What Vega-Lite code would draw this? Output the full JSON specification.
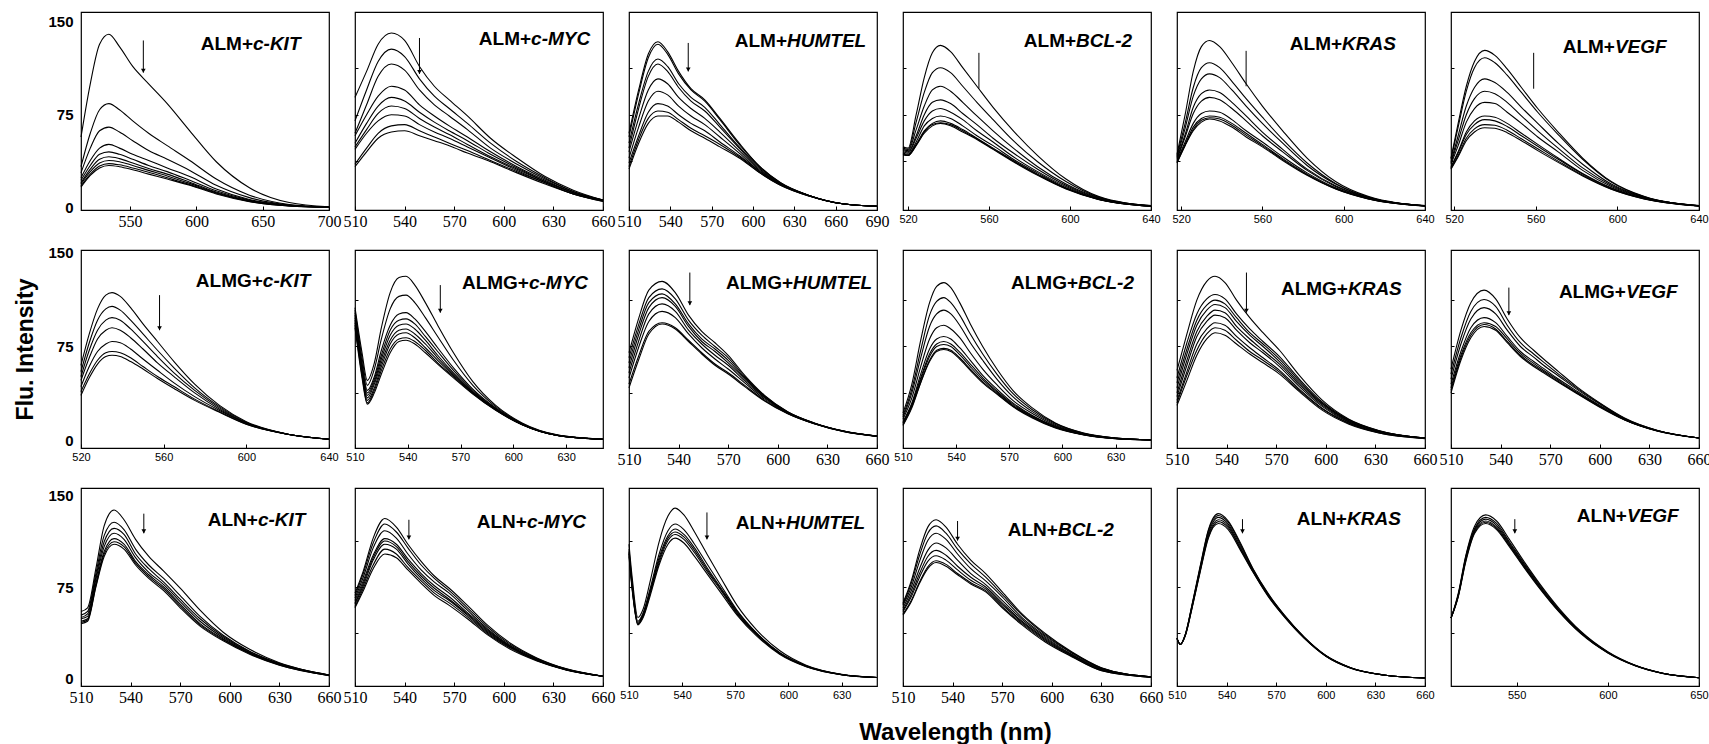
{"$schema":"https://vega.github.io/schema/vega-lite/v6.json","background":"white","padding":{"left":14,"top":11,"right":0,"bottom":0},"bounds":"flush","columns":6,"spacing":{"row":40,"column":26},
"config":{"view":{"stroke":"#000","strokeWidth":1.2},"axis":{"grid":false,"domain":false,"tickColor":"#000","labelColor":"#000","labelOverlap":false,"labelFlush":false,"labelBound":false},"axisX":{"labelFont":"Liberation Serif","labelFontSize":16,"labelPadding":7,"tickSize":-4},"axisY":{"tickSize":-3,"labelFont":"Liberation Sans","labelFontSize":15,"labelFontWeight":"bold","labelPadding":8},"line":{"color":"#000","strokeWidth":1.1,"interpolate":"monotone","clip":true},"text":{"font":"Liberation Sans","fontSize":19,"fontWeight":"bold","baseline":"middle","color":"#000"},"rule":{"color":"#000","strokeWidth":1},"point":{"color":"#000","filled":true,"shape":"triangle-down","size":22,"opacity":1}},
"concat":[
{"width":248,"height":198,"layer":[
{"data":{"values":[
{"c":1,"x":513,"y":57},{"c":1,"x":520,"y":100},{"c":1,"x":527,"y":132},{"c":1,"x":534,"y":140},{"c":1,"x":542,"y":130},{"c":1,"x":552,"y":114},{"c":1,"x":564,"y":100},{"c":1,"x":578,"y":84},{"c":1,"x":595,"y":62},{"c":1,"x":615,"y":37},{"c":1,"x":640,"y":16},{"c":1,"x":670,"y":4},{"c":1,"x":700,"y":0.5},
{"c":2,"x":513,"y":33},{"c":2,"x":520,"y":60},{"c":2,"x":527,"y":79},{"c":2,"x":534,"y":84},{"c":2,"x":542,"y":79},{"c":2,"x":552,"y":70},{"c":2,"x":564,"y":60},{"c":2,"x":578,"y":50},{"c":2,"x":595,"y":38},{"c":2,"x":615,"y":23},{"c":2,"x":640,"y":10},{"c":2,"x":670,"y":2.5},{"c":2,"x":700,"y":0.3},
{"c":3,"x":513,"y":28},{"c":3,"x":520,"y":48},{"c":3,"x":527,"y":62},{"c":3,"x":534,"y":65},{"c":3,"x":542,"y":61},{"c":3,"x":552,"y":54},{"c":3,"x":564,"y":46},{"c":3,"x":578,"y":39},{"c":3,"x":595,"y":30},{"c":3,"x":615,"y":18},{"c":3,"x":640,"y":8},{"c":3,"x":670,"y":2},{"c":3,"x":700,"y":0.3},
{"c":4,"x":513,"y":24},{"c":4,"x":520,"y":38},{"c":4,"x":527,"y":48},{"c":4,"x":534,"y":51},{"c":4,"x":542,"y":48},{"c":4,"x":552,"y":43},{"c":4,"x":564,"y":38},{"c":4,"x":578,"y":32},{"c":4,"x":595,"y":25},{"c":4,"x":615,"y":15},{"c":4,"x":640,"y":6.5},{"c":4,"x":670,"y":1.8},{"c":4,"x":700,"y":0.2},
{"c":5,"x":513,"y":22},{"c":5,"x":520,"y":34},{"c":5,"x":527,"y":43},{"c":5,"x":534,"y":45},{"c":5,"x":542,"y":43},{"c":5,"x":552,"y":39},{"c":5,"x":564,"y":34},{"c":5,"x":578,"y":29},{"c":5,"x":595,"y":22},{"c":5,"x":615,"y":13.5},{"c":5,"x":640,"y":6},{"c":5,"x":670,"y":1.6},{"c":5,"x":700,"y":0.2},
{"c":6,"x":513,"y":20},{"c":6,"x":520,"y":31},{"c":6,"x":527,"y":39},{"c":6,"x":534,"y":41},{"c":6,"x":542,"y":39.5},{"c":6,"x":552,"y":36},{"c":6,"x":564,"y":31.5},{"c":6,"x":578,"y":27},{"c":6,"x":595,"y":20.5},{"c":6,"x":615,"y":12.5},{"c":6,"x":640,"y":5.5},{"c":6,"x":670,"y":1.5},{"c":6,"x":700,"y":0.2},
{"c":7,"x":513,"y":19},{"c":7,"x":520,"y":29},{"c":7,"x":527,"y":36},{"c":7,"x":534,"y":38},{"c":7,"x":542,"y":37},{"c":7,"x":552,"y":34},{"c":7,"x":564,"y":30},{"c":7,"x":578,"y":25.5},{"c":7,"x":595,"y":19.5},{"c":7,"x":615,"y":12},{"c":7,"x":640,"y":5.2},{"c":7,"x":670,"y":1.4},{"c":7,"x":700,"y":0.2},
{"c":8,"x":513,"y":17.5},{"c":8,"x":520,"y":27},{"c":8,"x":527,"y":33.5},{"c":8,"x":534,"y":35.5},{"c":8,"x":542,"y":34.5},{"c":8,"x":552,"y":32},{"c":8,"x":564,"y":28.5},{"c":8,"x":578,"y":24},{"c":8,"x":595,"y":18.5},{"c":8,"x":615,"y":11.5},{"c":8,"x":640,"y":5},{"c":8,"x":670,"y":1.3},{"c":8,"x":700,"y":0.2},
{"c":9,"x":513,"y":16.5},{"c":9,"x":520,"y":26},{"c":9,"x":527,"y":32},{"c":9,"x":534,"y":34},{"c":9,"x":542,"y":33},{"c":9,"x":552,"y":30.5},{"c":9,"x":564,"y":27},{"c":9,"x":578,"y":23},{"c":9,"x":595,"y":18},{"c":9,"x":615,"y":11},{"c":9,"x":640,"y":4.8},{"c":9,"x":670,"y":1.3},{"c":9,"x":700,"y":0.2}
]},"mark":"line","encoding":{"x":{"field":"x","type":"quantitative","scale":{"domain":[513,700],"nice":false,"zero":false},"axis":{"values":[550,600,650,700],"title":null}},"y":{"field":"y","type":"quantitative","scale":{"domain":[-2,158],"nice":false,"zero":false},"axis":{"values":[0,75,150],"tickSize":0,"title":null}},"detail":{"field":"c","type":"nominal"}}},
{"data":{"values":[{}]},"mark":"rule","encoding":{"x":{"datum":560},"y":{"datum":135},"y2":{"datum":109}}},
{"data":{"values":[{}]},"mark":"point","encoding":{"x":{"datum":560},"y":{"datum":110.5}}},
{"data":{"values":[{}]},"mark":{"type":"text","align":"right"},"encoding":{"x":{"datum":642.7},"y":{"datum":132},"text":{"value":"ALM+"}}},
{"data":{"values":[{}]},"mark":{"type":"text","align":"left","fontStyle":"italic"},"encoding":{"x":{"datum":642.7},"y":{"datum":132},"text":{"value":"c-KIT"}}}
]},
{"width":248,"height":198,"layer":[
{"data":{"values":[
{"c":1,"x":510,"y":89},{"c":1,"x":517,"y":110},{"c":1,"x":524,"y":132},{"c":1,"x":532,"y":141},{"c":1,"x":540,"y":135},{"c":1,"x":549,"y":114},{"c":1,"x":558,"y":98},{"c":1,"x":567,"y":87},{"c":1,"x":578,"y":74},{"c":1,"x":592,"y":56},{"c":1,"x":608,"y":40},{"c":1,"x":625,"y":25},{"c":1,"x":642,"y":14},{"c":1,"x":660,"y":6},
{"c":2,"x":510,"y":70},{"c":2,"x":517,"y":95},{"c":2,"x":524,"y":118},{"c":2,"x":532,"y":128},{"c":2,"x":540,"y":122},{"c":2,"x":549,"y":104},{"c":2,"x":558,"y":90},{"c":2,"x":567,"y":80},{"c":2,"x":578,"y":68},{"c":2,"x":592,"y":52},{"c":2,"x":608,"y":37},{"c":2,"x":625,"y":24},{"c":2,"x":642,"y":13},{"c":2,"x":660,"y":6},
{"c":3,"x":510,"y":60},{"c":3,"x":517,"y":83},{"c":3,"x":524,"y":106},{"c":3,"x":532,"y":116},{"c":3,"x":540,"y":111},{"c":3,"x":549,"y":95},{"c":3,"x":558,"y":83},{"c":3,"x":567,"y":74},{"c":3,"x":578,"y":63},{"c":3,"x":592,"y":48},{"c":3,"x":608,"y":35},{"c":3,"x":625,"y":23},{"c":3,"x":642,"y":13},{"c":3,"x":660,"y":6},
{"c":4,"x":510,"y":58},{"c":4,"x":517,"y":75},{"c":4,"x":524,"y":90},{"c":4,"x":532,"y":98},{"c":4,"x":540,"y":95},{"c":4,"x":549,"y":83},{"c":4,"x":558,"y":74},{"c":4,"x":567,"y":66},{"c":4,"x":578,"y":57},{"c":4,"x":592,"y":45},{"c":4,"x":608,"y":33},{"c":4,"x":625,"y":22},{"c":4,"x":642,"y":12},{"c":4,"x":660,"y":6},
{"c":5,"x":510,"y":52},{"c":5,"x":517,"y":68},{"c":5,"x":524,"y":82},{"c":5,"x":532,"y":89},{"c":5,"x":540,"y":86},{"c":5,"x":549,"y":77},{"c":5,"x":558,"y":69},{"c":5,"x":567,"y":62},{"c":5,"x":578,"y":54},{"c":5,"x":592,"y":43},{"c":5,"x":608,"y":32},{"c":5,"x":625,"y":21},{"c":5,"x":642,"y":12},{"c":5,"x":660,"y":5.5},
{"c":6,"x":510,"y":49},{"c":6,"x":517,"y":63},{"c":6,"x":524,"y":76},{"c":6,"x":532,"y":82},{"c":6,"x":540,"y":80},{"c":6,"x":549,"y":72},{"c":6,"x":558,"y":65},{"c":6,"x":567,"y":59},{"c":6,"x":578,"y":51},{"c":6,"x":592,"y":41},{"c":6,"x":608,"y":31},{"c":6,"x":625,"y":21},{"c":6,"x":642,"y":12},{"c":6,"x":660,"y":5.5},
{"c":7,"x":510,"y":47},{"c":7,"x":517,"y":60},{"c":7,"x":524,"y":70},{"c":7,"x":532,"y":75},{"c":7,"x":540,"y":74},{"c":7,"x":549,"y":67},{"c":7,"x":558,"y":61},{"c":7,"x":567,"y":56},{"c":7,"x":578,"y":49},{"c":7,"x":592,"y":40},{"c":7,"x":608,"y":30},{"c":7,"x":625,"y":20},{"c":7,"x":642,"y":11},{"c":7,"x":660,"y":5.5},
{"c":8,"x":510,"y":35},{"c":8,"x":517,"y":48},{"c":8,"x":524,"y":60},{"c":8,"x":532,"y":66},{"c":8,"x":540,"y":67},{"c":8,"x":549,"y":62},{"c":8,"x":558,"y":57},{"c":8,"x":567,"y":52},{"c":8,"x":578,"y":46},{"c":8,"x":592,"y":38},{"c":8,"x":608,"y":29},{"c":8,"x":625,"y":20},{"c":8,"x":642,"y":11},{"c":8,"x":660,"y":5},
{"c":9,"x":510,"y":33},{"c":9,"x":517,"y":45},{"c":9,"x":524,"y":56},{"c":9,"x":532,"y":61},{"c":9,"x":540,"y":62},{"c":9,"x":549,"y":58},{"c":9,"x":558,"y":54},{"c":9,"x":567,"y":50},{"c":9,"x":578,"y":44},{"c":9,"x":592,"y":37},{"c":9,"x":608,"y":28},{"c":9,"x":625,"y":19},{"c":9,"x":642,"y":11},{"c":9,"x":660,"y":5}
]},"mark":"line","encoding":{"x":{"field":"x","type":"quantitative","scale":{"domain":[510,660],"nice":false,"zero":false},"axis":{"values":[510,540,570,600,630,660],"title":null}},"y":{"field":"y","type":"quantitative","scale":{"domain":[-2,158],"nice":false,"zero":false},"axis":{"values":[37.5,75,112.5],"labels":false,"title":null}},"detail":{"field":"c","type":"nominal"}}},
{"data":{"values":[{}]},"mark":"rule","encoding":{"x":{"datum":549},"y":{"datum":137},"y2":{"datum":108}}},
{"data":{"values":[{}]},"mark":"point","encoding":{"x":{"datum":549},"y":{"datum":109.5}}},
{"data":{"values":[{}]},"mark":{"type":"text","align":"right"},"encoding":{"x":{"datum":616.5},"y":{"datum":136},"text":{"value":"ALM+"}}},
{"data":{"values":[{}]},"mark":{"type":"text","align":"left","fontStyle":"italic"},"encoding":{"x":{"datum":616.5},"y":{"datum":136},"text":{"value":"c-MYC"}}}
]},
{"width":248,"height":198,"layer":[
{"data":{"values":[
{"c":1,"x":510,"y":60},{"c":1,"x":517,"y":95},{"c":1,"x":524,"y":124},{"c":1,"x":531,"y":134},{"c":1,"x":538,"y":126},{"c":1,"x":546,"y":110},{"c":1,"x":555,"y":96},{"c":1,"x":565,"y":87},{"c":1,"x":576,"y":72},{"c":1,"x":590,"y":52},{"c":1,"x":605,"y":33},{"c":1,"x":620,"y":20},{"c":1,"x":640,"y":10},{"c":1,"x":665,"y":3},{"c":1,"x":690,"y":1},
{"c":2,"x":510,"y":57},{"c":2,"x":517,"y":92},{"c":2,"x":524,"y":121},{"c":2,"x":531,"y":132},{"c":2,"x":538,"y":124},{"c":2,"x":546,"y":108},{"c":2,"x":555,"y":95},{"c":2,"x":565,"y":86},{"c":2,"x":576,"y":71},{"c":2,"x":590,"y":51},{"c":2,"x":605,"y":33},{"c":2,"x":620,"y":20},{"c":2,"x":640,"y":10},{"c":2,"x":665,"y":3},{"c":2,"x":690,"y":1},
{"c":3,"x":510,"y":52},{"c":3,"x":517,"y":84},{"c":3,"x":524,"y":110},{"c":3,"x":531,"y":120},{"c":3,"x":538,"y":114},{"c":3,"x":546,"y":100},{"c":3,"x":555,"y":89},{"c":3,"x":565,"y":81},{"c":3,"x":576,"y":67},{"c":3,"x":590,"y":49},{"c":3,"x":605,"y":32},{"c":3,"x":620,"y":19.5},{"c":3,"x":640,"y":10},{"c":3,"x":665,"y":3},{"c":3,"x":690,"y":1},
{"c":4,"x":510,"y":48},{"c":4,"x":517,"y":80},{"c":4,"x":524,"y":106},{"c":4,"x":531,"y":116},{"c":4,"x":538,"y":110},{"c":4,"x":546,"y":97},{"c":4,"x":555,"y":86},{"c":4,"x":565,"y":78},{"c":4,"x":576,"y":65},{"c":4,"x":590,"y":48},{"c":4,"x":605,"y":31},{"c":4,"x":620,"y":19},{"c":4,"x":640,"y":10},{"c":4,"x":665,"y":3},{"c":4,"x":690,"y":1},
{"c":5,"x":510,"y":45},{"c":5,"x":517,"y":72},{"c":5,"x":524,"y":95},{"c":5,"x":531,"y":104},{"c":5,"x":538,"y":100},{"c":5,"x":546,"y":89},{"c":5,"x":555,"y":80},{"c":5,"x":565,"y":72},{"c":5,"x":576,"y":61},{"c":5,"x":590,"y":46},{"c":5,"x":605,"y":30},{"c":5,"x":620,"y":19},{"c":5,"x":640,"y":10},{"c":5,"x":665,"y":3},{"c":5,"x":690,"y":1},
{"c":6,"x":510,"y":40},{"c":6,"x":517,"y":65},{"c":6,"x":524,"y":86},{"c":6,"x":531,"y":94},{"c":6,"x":538,"y":91},{"c":6,"x":546,"y":82},{"c":6,"x":555,"y":74},{"c":6,"x":565,"y":67},{"c":6,"x":576,"y":57},{"c":6,"x":590,"y":44},{"c":6,"x":605,"y":29},{"c":6,"x":620,"y":18.5},{"c":6,"x":640,"y":10},{"c":6,"x":665,"y":3},{"c":6,"x":690,"y":1},
{"c":7,"x":510,"y":36},{"c":7,"x":517,"y":58},{"c":7,"x":524,"y":77},{"c":7,"x":531,"y":84},{"c":7,"x":538,"y":82},{"c":7,"x":546,"y":75},{"c":7,"x":555,"y":68},{"c":7,"x":565,"y":62},{"c":7,"x":576,"y":53},{"c":7,"x":590,"y":42},{"c":7,"x":605,"y":29},{"c":7,"x":620,"y":18.5},{"c":7,"x":640,"y":9.5},{"c":7,"x":665,"y":3},{"c":7,"x":690,"y":1},
{"c":8,"x":510,"y":33},{"c":8,"x":517,"y":55},{"c":8,"x":524,"y":72},{"c":8,"x":531,"y":78},{"c":8,"x":538,"y":77},{"c":8,"x":546,"y":71},{"c":8,"x":555,"y":64},{"c":8,"x":565,"y":58},{"c":8,"x":576,"y":51},{"c":8,"x":590,"y":41},{"c":8,"x":605,"y":28},{"c":8,"x":620,"y":18},{"c":8,"x":640,"y":9.5},{"c":8,"x":665,"y":3},{"c":8,"x":690,"y":1},
{"c":9,"x":510,"y":31},{"c":9,"x":517,"y":52},{"c":9,"x":524,"y":68},{"c":9,"x":531,"y":74},{"c":9,"x":538,"y":74},{"c":9,"x":546,"y":69},{"c":9,"x":555,"y":62},{"c":9,"x":565,"y":56},{"c":9,"x":576,"y":49},{"c":9,"x":590,"y":40},{"c":9,"x":605,"y":28},{"c":9,"x":620,"y":18},{"c":9,"x":640,"y":9.5},{"c":9,"x":665,"y":3},{"c":9,"x":690,"y":1}
]},"mark":"line","encoding":{"x":{"field":"x","type":"quantitative","scale":{"domain":[510,690],"nice":false,"zero":false},"axis":{"values":[510,540,570,600,630,660,690],"title":null}},"y":{"field":"y","type":"quantitative","scale":{"domain":[-2,158],"nice":false,"zero":false},"axis":{"values":[37.5,75,112.5],"labels":false,"title":null}},"detail":{"field":"c","type":"nominal"}}},
{"data":{"values":[{}]},"mark":"rule","encoding":{"x":{"datum":553},"y":{"datum":133},"y2":{"datum":110}}},
{"data":{"values":[{}]},"mark":"point","encoding":{"x":{"datum":553},"y":{"datum":111.5}}},
{"data":{"values":[{}]},"mark":{"type":"text","align":"right"},"encoding":{"x":{"datum":624.7},"y":{"datum":134.5},"text":{"value":"ALM+"}}},
{"data":{"values":[{}]},"mark":{"type":"text","align":"left","fontStyle":"italic"},"encoding":{"x":{"datum":624.7},"y":{"datum":134.5},"text":{"value":"HUMTEL"}}}
]},
{"width":248,"height":198,"layer":[
{"data":{"values":[
{"c":1,"x":517.5,"y":49},{"c":1,"x":520,"y":48},{"c":1,"x":524,"y":75},{"c":1,"x":528,"y":105},{"c":1,"x":532,"y":125},{"c":1,"x":536,"y":131},{"c":1,"x":541,"y":126},{"c":1,"x":547,"y":113},{"c":1,"x":554,"y":98},{"c":1,"x":562,"y":81},{"c":1,"x":572,"y":62},{"c":1,"x":584,"y":42},{"c":1,"x":598,"y":23},{"c":1,"x":614,"y":9},{"c":1,"x":640,"y":1.5},
{"c":2,"x":517.5,"y":48},{"c":2,"x":520,"y":47},{"c":2,"x":524,"y":69},{"c":2,"x":528,"y":93},{"c":2,"x":532,"y":109},{"c":2,"x":536,"y":113},{"c":2,"x":541,"y":109},{"c":2,"x":547,"y":98},{"c":2,"x":554,"y":85},{"c":2,"x":562,"y":71},{"c":2,"x":572,"y":54},{"c":2,"x":584,"y":37},{"c":2,"x":598,"y":21},{"c":2,"x":614,"y":8.5},{"c":2,"x":640,"y":1.5},
{"c":3,"x":517.5,"y":47},{"c":3,"x":520,"y":46},{"c":3,"x":524,"y":63},{"c":3,"x":528,"y":82},{"c":3,"x":532,"y":95},{"c":3,"x":536,"y":98},{"c":3,"x":541,"y":94},{"c":3,"x":547,"y":85},{"c":3,"x":554,"y":74},{"c":3,"x":562,"y":62},{"c":3,"x":572,"y":48},{"c":3,"x":584,"y":33},{"c":3,"x":598,"y":19},{"c":3,"x":614,"y":8},{"c":3,"x":640,"y":1.3},
{"c":4,"x":517.5,"y":46},{"c":4,"x":520,"y":45},{"c":4,"x":524,"y":58},{"c":4,"x":528,"y":75},{"c":4,"x":532,"y":85},{"c":4,"x":536,"y":87},{"c":4,"x":541,"y":84},{"c":4,"x":547,"y":76},{"c":4,"x":554,"y":67},{"c":4,"x":562,"y":56},{"c":4,"x":572,"y":44},{"c":4,"x":584,"y":31},{"c":4,"x":598,"y":18},{"c":4,"x":614,"y":7.5},{"c":4,"x":640,"y":1.2},
{"c":5,"x":517.5,"y":45},{"c":5,"x":520,"y":44},{"c":5,"x":524,"y":56},{"c":5,"x":528,"y":70},{"c":5,"x":532,"y":78},{"c":5,"x":536,"y":80},{"c":5,"x":541,"y":77},{"c":5,"x":547,"y":71},{"c":5,"x":554,"y":62},{"c":5,"x":562,"y":53},{"c":5,"x":572,"y":41},{"c":5,"x":584,"y":29},{"c":5,"x":598,"y":17},{"c":5,"x":614,"y":7},{"c":5,"x":640,"y":1.2},
{"c":6,"x":517.5,"y":44},{"c":6,"x":520,"y":43},{"c":6,"x":524,"y":53},{"c":6,"x":528,"y":66},{"c":6,"x":532,"y":72},{"c":6,"x":536,"y":74},{"c":6,"x":541,"y":72},{"c":6,"x":547,"y":66},{"c":6,"x":554,"y":58},{"c":6,"x":562,"y":50},{"c":6,"x":572,"y":39},{"c":6,"x":584,"y":28},{"c":6,"x":598,"y":16},{"c":6,"x":614,"y":7},{"c":6,"x":640,"y":1.1},
{"c":7,"x":517.5,"y":43.5},{"c":7,"x":520,"y":42.5},{"c":7,"x":524,"y":51},{"c":7,"x":528,"y":62},{"c":7,"x":532,"y":68},{"c":7,"x":536,"y":70},{"c":7,"x":541,"y":68},{"c":7,"x":547,"y":63},{"c":7,"x":554,"y":56},{"c":7,"x":562,"y":48},{"c":7,"x":572,"y":38},{"c":7,"x":584,"y":27},{"c":7,"x":598,"y":15.5},{"c":7,"x":614,"y":6.7},{"c":7,"x":640,"y":1},
{"c":8,"x":517.5,"y":43},{"c":8,"x":520,"y":42},{"c":8,"x":524,"y":50.5},{"c":8,"x":528,"y":61},{"c":8,"x":532,"y":67},{"c":8,"x":536,"y":68.5},{"c":8,"x":541,"y":67},{"c":8,"x":547,"y":62},{"c":8,"x":554,"y":55.5},{"c":8,"x":562,"y":47.5},{"c":8,"x":572,"y":37.5},{"c":8,"x":584,"y":26.5},{"c":8,"x":598,"y":15.3},{"c":8,"x":614,"y":6.6},{"c":8,"x":640,"y":1},
{"c":9,"x":517.5,"y":42.5},{"c":9,"x":520,"y":42},{"c":9,"x":524,"y":50},{"c":9,"x":528,"y":60},{"c":9,"x":532,"y":66},{"c":9,"x":536,"y":68},{"c":9,"x":541,"y":66},{"c":9,"x":547,"y":61},{"c":9,"x":554,"y":55},{"c":9,"x":562,"y":47},{"c":9,"x":572,"y":37},{"c":9,"x":584,"y":26},{"c":9,"x":598,"y":15},{"c":9,"x":614,"y":6.5},{"c":9,"x":640,"y":1}
]},"mark":"line","encoding":{"x":{"field":"x","type":"quantitative","scale":{"domain":[517.5,640],"nice":false,"zero":false},"axis":{"values":[520,560,600,640],"labelFont":"Liberation Sans","labelFontSize":11,"title":null}},"y":{"field":"y","type":"quantitative","scale":{"domain":[-2,158],"nice":false,"zero":false},"axis":{"values":[37.5,75,112.5],"labels":false,"title":null}},"detail":{"field":"c","type":"nominal"}}},
{"data":{"values":[{}]},"mark":"rule","encoding":{"x":{"datum":555},"y":{"datum":125},"y2":{"datum":96}}},
{"data":{"values":[{}]},"mark":{"type":"text","align":"right"},"encoding":{"x":{"datum":603},"y":{"datum":134.5},"text":{"value":"ALM+"}}},
{"data":{"values":[{}]},"mark":{"type":"text","align":"left","fontStyle":"italic"},"encoding":{"x":{"datum":603},"y":{"datum":134.5},"text":{"value":"BCL-2"}}}
]},
{"width":248,"height":198,"layer":[
{"data":{"values":[
{"c":1,"x":518,"y":43},{"c":1,"x":522,"y":75},{"c":1,"x":526,"y":110},{"c":1,"x":530,"y":130},{"c":1,"x":534,"y":135},{"c":1,"x":539,"y":130},{"c":1,"x":545,"y":117},{"c":1,"x":552,"y":100},{"c":1,"x":560,"y":82},{"c":1,"x":570,"y":62},{"c":1,"x":582,"y":40},{"c":1,"x":596,"y":21},{"c":1,"x":612,"y":9},{"c":1,"x":640,"y":1.5},
{"c":2,"x":518,"y":42},{"c":2,"x":522,"y":68},{"c":2,"x":526,"y":97},{"c":2,"x":530,"y":113},{"c":2,"x":534,"y":117},{"c":2,"x":539,"y":113},{"c":2,"x":545,"y":102},{"c":2,"x":552,"y":88},{"c":2,"x":560,"y":73},{"c":2,"x":570,"y":55},{"c":2,"x":582,"y":36},{"c":2,"x":596,"y":19.5},{"c":2,"x":612,"y":8.5},{"c":2,"x":640,"y":1.5},
{"c":3,"x":518,"y":41},{"c":3,"x":522,"y":64},{"c":3,"x":526,"y":90},{"c":3,"x":530,"y":104},{"c":3,"x":534,"y":108},{"c":3,"x":539,"y":105},{"c":3,"x":545,"y":95},{"c":3,"x":552,"y":82},{"c":3,"x":560,"y":68},{"c":3,"x":570,"y":52},{"c":3,"x":582,"y":34},{"c":3,"x":596,"y":19},{"c":3,"x":612,"y":8.3},{"c":3,"x":640,"y":1.4},
{"c":4,"x":518,"y":40},{"c":4,"x":522,"y":59},{"c":4,"x":526,"y":81},{"c":4,"x":530,"y":92},{"c":4,"x":534,"y":95},{"c":4,"x":539,"y":93},{"c":4,"x":545,"y":85},{"c":4,"x":552,"y":74},{"c":4,"x":560,"y":61},{"c":4,"x":570,"y":47},{"c":4,"x":582,"y":31},{"c":4,"x":596,"y":17.5},{"c":4,"x":612,"y":8},{"c":4,"x":640,"y":1.4},
{"c":5,"x":518,"y":39},{"c":5,"x":522,"y":57},{"c":5,"x":526,"y":76},{"c":5,"x":530,"y":86},{"c":5,"x":534,"y":89},{"c":5,"x":539,"y":87},{"c":5,"x":545,"y":80},{"c":5,"x":552,"y":70},{"c":5,"x":560,"y":58},{"c":5,"x":570,"y":45},{"c":5,"x":582,"y":30},{"c":5,"x":596,"y":17},{"c":5,"x":612,"y":7.8},{"c":5,"x":640,"y":1.3},
{"c":6,"x":518,"y":38},{"c":6,"x":522,"y":53},{"c":6,"x":526,"y":68},{"c":6,"x":530,"y":76},{"c":6,"x":534,"y":78},{"c":6,"x":539,"y":77},{"c":6,"x":545,"y":71},{"c":6,"x":552,"y":62},{"c":6,"x":560,"y":53},{"c":6,"x":570,"y":41},{"c":6,"x":582,"y":28},{"c":6,"x":596,"y":16},{"c":6,"x":612,"y":7.5},{"c":6,"x":640,"y":1.3},
{"c":7,"x":518,"y":37},{"c":7,"x":522,"y":51},{"c":7,"x":526,"y":65},{"c":7,"x":530,"y":72},{"c":7,"x":534,"y":74},{"c":7,"x":539,"y":73},{"c":7,"x":545,"y":68},{"c":7,"x":552,"y":60},{"c":7,"x":560,"y":51},{"c":7,"x":570,"y":39.5},{"c":7,"x":582,"y":27},{"c":7,"x":596,"y":15.5},{"c":7,"x":612,"y":7.2},{"c":7,"x":640,"y":1.2},
{"c":8,"x":518,"y":36.5},{"c":8,"x":522,"y":50.5},{"c":8,"x":526,"y":63},{"c":8,"x":530,"y":70.5},{"c":8,"x":534,"y":72.6},{"c":8,"x":539,"y":71.5},{"c":8,"x":545,"y":66.5},{"c":8,"x":552,"y":58.5},{"c":8,"x":560,"y":50},{"c":8,"x":570,"y":38.7},{"c":8,"x":582,"y":26.5},{"c":8,"x":596,"y":15.2},{"c":8,"x":612,"y":7.1},{"c":8,"x":640,"y":1.2},
{"c":9,"x":518,"y":36},{"c":9,"x":522,"y":50},{"c":9,"x":526,"y":62},{"c":9,"x":530,"y":69},{"c":9,"x":534,"y":71.5},{"c":9,"x":539,"y":70},{"c":9,"x":545,"y":65},{"c":9,"x":552,"y":57},{"c":9,"x":560,"y":49},{"c":9,"x":570,"y":38},{"c":9,"x":582,"y":26},{"c":9,"x":596,"y":15},{"c":9,"x":612,"y":7},{"c":9,"x":640,"y":1.2}
]},"mark":"line","encoding":{"x":{"field":"x","type":"quantitative","scale":{"domain":[518,640],"nice":false,"zero":false},"axis":{"values":[520,560,600,640],"labelFont":"Liberation Sans","labelFontSize":11,"title":null}},"y":{"field":"y","type":"quantitative","scale":{"domain":[-2,158],"nice":false,"zero":false},"axis":{"values":[37.5,75,112.5],"labels":false,"title":null}},"detail":{"field":"c","type":"nominal"}}},
{"data":{"values":[{}]},"mark":"rule","encoding":{"x":{"datum":552},"y":{"datum":126.6},"y2":{"datum":98}}},
{"data":{"values":[{}]},"mark":{"type":"text","align":"right"},"encoding":{"x":{"datum":599.2},"y":{"datum":132},"text":{"value":"ALM+"}}},
{"data":{"values":[{}]},"mark":{"type":"text","align":"left","fontStyle":"italic"},"encoding":{"x":{"datum":599.2},"y":{"datum":132},"text":{"value":"KRAS"}}}
]},
{"width":248,"height":198,"layer":[
{"data":{"values":[
{"c":1,"x":518.5,"y":40},{"c":1,"x":522,"y":68},{"c":1,"x":526,"y":98},{"c":1,"x":530,"y":118},{"c":1,"x":535,"y":127},{"c":1,"x":540,"y":123},{"c":1,"x":546,"y":112},{"c":1,"x":553,"y":97},{"c":1,"x":561,"y":80},{"c":1,"x":571,"y":61},{"c":1,"x":583,"y":40},{"c":1,"x":597,"y":21},{"c":1,"x":613,"y":9},{"c":1,"x":640,"y":1.5},
{"c":2,"x":518.5,"y":39},{"c":2,"x":522,"y":65},{"c":2,"x":526,"y":94},{"c":2,"x":530,"y":113},{"c":2,"x":535,"y":121},{"c":2,"x":540,"y":117},{"c":2,"x":546,"y":107},{"c":2,"x":553,"y":93},{"c":2,"x":561,"y":77},{"c":2,"x":571,"y":59},{"c":2,"x":583,"y":39},{"c":2,"x":597,"y":20.5},{"c":2,"x":613,"y":8.8},{"c":2,"x":640,"y":1.5},
{"c":3,"x":518.5,"y":37},{"c":3,"x":522,"y":58},{"c":3,"x":526,"y":82},{"c":3,"x":530,"y":97},{"c":3,"x":535,"y":104},{"c":3,"x":540,"y":101},{"c":3,"x":546,"y":93},{"c":3,"x":553,"y":81},{"c":3,"x":561,"y":68},{"c":3,"x":571,"y":52},{"c":3,"x":583,"y":35},{"c":3,"x":597,"y":19},{"c":3,"x":613,"y":8.5},{"c":3,"x":640,"y":1.4},
{"c":4,"x":518.5,"y":36},{"c":4,"x":522,"y":54},{"c":4,"x":526,"y":75},{"c":4,"x":530,"y":88},{"c":4,"x":535,"y":94},{"c":4,"x":540,"y":92},{"c":4,"x":546,"y":85},{"c":4,"x":553,"y":74},{"c":4,"x":561,"y":62},{"c":4,"x":571,"y":48},{"c":4,"x":583,"y":32},{"c":4,"x":597,"y":18},{"c":4,"x":613,"y":8.2},{"c":4,"x":640,"y":1.4},
{"c":5,"x":518.5,"y":35},{"c":5,"x":522,"y":50},{"c":5,"x":526,"y":69},{"c":5,"x":530,"y":80},{"c":5,"x":535,"y":85},{"c":5,"x":540,"y":84},{"c":5,"x":546,"y":77},{"c":5,"x":553,"y":68},{"c":5,"x":561,"y":57},{"c":5,"x":571,"y":45},{"c":5,"x":583,"y":30},{"c":5,"x":597,"y":17},{"c":5,"x":613,"y":8},{"c":5,"x":640,"y":1.3},
{"c":6,"x":518.5,"y":33},{"c":6,"x":522,"y":45},{"c":6,"x":526,"y":61},{"c":6,"x":530,"y":70},{"c":6,"x":535,"y":74},{"c":6,"x":540,"y":73},{"c":6,"x":546,"y":68},{"c":6,"x":553,"y":60},{"c":6,"x":561,"y":51},{"c":6,"x":571,"y":40},{"c":6,"x":583,"y":27.5},{"c":6,"x":597,"y":16},{"c":6,"x":613,"y":7.5},{"c":6,"x":640,"y":1.3},
{"c":7,"x":518.5,"y":32},{"c":7,"x":522,"y":44},{"c":7,"x":526,"y":59},{"c":7,"x":530,"y":67},{"c":7,"x":535,"y":71},{"c":7,"x":540,"y":70},{"c":7,"x":546,"y":65.5},{"c":7,"x":553,"y":58},{"c":7,"x":561,"y":49.5},{"c":7,"x":571,"y":39},{"c":7,"x":583,"y":27},{"c":7,"x":597,"y":15.5},{"c":7,"x":613,"y":7.3},{"c":7,"x":640,"y":1.2},
{"c":8,"x":518.5,"y":31.5},{"c":8,"x":522,"y":42},{"c":8,"x":526,"y":56},{"c":8,"x":530,"y":63.5},{"c":8,"x":535,"y":67},{"c":8,"x":540,"y":66.5},{"c":8,"x":546,"y":62.5},{"c":8,"x":553,"y":55.5},{"c":8,"x":561,"y":47.5},{"c":8,"x":571,"y":37.5},{"c":8,"x":583,"y":26},{"c":8,"x":597,"y":15},{"c":8,"x":613,"y":7.1},{"c":8,"x":640,"y":1.2},
{"c":9,"x":518.5,"y":31},{"c":9,"x":522,"y":41},{"c":9,"x":526,"y":54},{"c":9,"x":530,"y":61},{"c":9,"x":535,"y":64.5},{"c":9,"x":540,"y":64},{"c":9,"x":546,"y":60.5},{"c":9,"x":553,"y":54},{"c":9,"x":561,"y":46},{"c":9,"x":571,"y":36.5},{"c":9,"x":583,"y":25.5},{"c":9,"x":597,"y":14.8},{"c":9,"x":613,"y":7},{"c":9,"x":640,"y":1.2}
]},"mark":"line","encoding":{"x":{"field":"x","type":"quantitative","scale":{"domain":[518.5,640],"nice":false,"zero":false},"axis":{"values":[520,560,600,640],"labelFont":"Liberation Sans","labelFontSize":11,"title":null}},"y":{"field":"y","type":"quantitative","scale":{"domain":[-2,158],"nice":false,"zero":false},"axis":{"values":[37.5,75,112.5],"labels":false,"title":null}},"detail":{"field":"c","type":"nominal"}}},
{"data":{"values":[{}]},"mark":"rule","encoding":{"x":{"datum":559},"y":{"datum":125},"y2":{"datum":96}}},
{"data":{"values":[{}]},"mark":{"type":"text","align":"right"},"encoding":{"x":{"datum":598.8},"y":{"datum":130},"text":{"value":"ALM+"}}},
{"data":{"values":[{}]},"mark":{"type":"text","align":"left","fontStyle":"italic"},"encoding":{"x":{"datum":598.8},"y":{"datum":130},"text":{"value":"VEGF"}}}
]},
{"width":248,"height":198,"layer":[
{"data":{"values":[
{"c":1,"x":520,"y":60},{"c":1,"x":524,"y":85},{"c":1,"x":528,"y":105},{"c":1,"x":532,"y":116},{"c":1,"x":535,"y":118},{"c":1,"x":539,"y":115},{"c":1,"x":544,"y":106},{"c":1,"x":550,"y":93},{"c":1,"x":557,"y":79},{"c":1,"x":565,"y":63},{"c":1,"x":575,"y":45},{"c":1,"x":587,"y":28},{"c":1,"x":600,"y":15},{"c":1,"x":620,"y":5},{"c":1,"x":640,"y":1},
{"c":2,"x":520,"y":55},{"c":2,"x":524,"y":78},{"c":2,"x":528,"y":96},{"c":2,"x":532,"y":105},{"c":2,"x":535,"y":107},{"c":2,"x":539,"y":104},{"c":2,"x":544,"y":96},{"c":2,"x":550,"y":85},{"c":2,"x":557,"y":72},{"c":2,"x":565,"y":58},{"c":2,"x":575,"y":42},{"c":2,"x":587,"y":27},{"c":2,"x":600,"y":14.5},{"c":2,"x":620,"y":5},{"c":2,"x":640,"y":1},
{"c":3,"x":520,"y":51},{"c":3,"x":524,"y":72},{"c":3,"x":528,"y":88},{"c":3,"x":532,"y":96},{"c":3,"x":535,"y":98},{"c":3,"x":539,"y":96},{"c":3,"x":544,"y":89},{"c":3,"x":550,"y":79},{"c":3,"x":557,"y":67},{"c":3,"x":565,"y":54},{"c":3,"x":575,"y":40},{"c":3,"x":587,"y":26},{"c":3,"x":600,"y":14},{"c":3,"x":620,"y":5},{"c":3,"x":640,"y":1},
{"c":4,"x":520,"y":48},{"c":4,"x":524,"y":66},{"c":4,"x":528,"y":81},{"c":4,"x":532,"y":88},{"c":4,"x":535,"y":90},{"c":4,"x":539,"y":88},{"c":4,"x":544,"y":82},{"c":4,"x":550,"y":73},{"c":4,"x":557,"y":62},{"c":4,"x":565,"y":51},{"c":4,"x":575,"y":38},{"c":4,"x":587,"y":25},{"c":4,"x":600,"y":14},{"c":4,"x":620,"y":5},{"c":4,"x":640,"y":1},
{"c":5,"x":520,"y":43},{"c":5,"x":524,"y":59},{"c":5,"x":528,"y":71},{"c":5,"x":532,"y":77},{"c":5,"x":535,"y":79},{"c":5,"x":539,"y":78},{"c":5,"x":544,"y":73},{"c":5,"x":550,"y":65},{"c":5,"x":557,"y":56},{"c":5,"x":565,"y":46},{"c":5,"x":575,"y":35},{"c":5,"x":587,"y":24},{"c":5,"x":600,"y":13.5},{"c":5,"x":620,"y":5},{"c":5,"x":640,"y":1},
{"c":6,"x":520,"y":39},{"c":6,"x":524,"y":53},{"c":6,"x":528,"y":64},{"c":6,"x":532,"y":70},{"c":6,"x":535,"y":71},{"c":6,"x":539,"y":70},{"c":6,"x":544,"y":66},{"c":6,"x":550,"y":59},{"c":6,"x":557,"y":51},{"c":6,"x":565,"y":43},{"c":6,"x":575,"y":33},{"c":6,"x":587,"y":23},{"c":6,"x":600,"y":13},{"c":6,"x":620,"y":5},{"c":6,"x":640,"y":1},
{"c":7,"x":520,"y":36},{"c":7,"x":524,"y":50},{"c":7,"x":528,"y":61},{"c":7,"x":532,"y":67},{"c":7,"x":535,"y":68},{"c":7,"x":539,"y":67},{"c":7,"x":544,"y":63},{"c":7,"x":550,"y":57},{"c":7,"x":557,"y":49.5},{"c":7,"x":565,"y":41.5},{"c":7,"x":575,"y":32},{"c":7,"x":587,"y":22.5},{"c":7,"x":600,"y":13},{"c":7,"x":620,"y":5},{"c":7,"x":640,"y":1}
]},"mark":"line","encoding":{"x":{"field":"x","type":"quantitative","scale":{"domain":[520,640],"nice":false,"zero":false},"axis":{"values":[520,560,600,640],"labelFont":"Liberation Sans","labelFontSize":11,"title":null}},"y":{"field":"y","type":"quantitative","scale":{"domain":[-6,152],"nice":false,"zero":false},"axis":{"values":[0,75,150],"tickSize":0,"title":"Flu. Intensity","titleFont":"Liberation Sans","titleFontSize":23,"titleFontWeight":"bold","titlePadding":10,"titleColor":"#000"}},"detail":{"field":"c","type":"nominal"}}},
{"data":{"values":[{}]},"mark":"rule","encoding":{"x":{"datum":558},"y":{"datum":116},"y2":{"datum":88}}},
{"data":{"values":[{}]},"mark":"point","encoding":{"x":{"datum":558},"y":{"datum":89.5}}},
{"data":{"values":[{}]},"mark":{"type":"text","align":"right"},"encoding":{"x":{"datum":608},"y":{"datum":127},"text":{"value":"ALMG+"}}},
{"data":{"values":[{}]},"mark":{"type":"text","align":"left","fontStyle":"italic"},"encoding":{"x":{"datum":608},"y":{"datum":127},"text":{"value":"c-KIT"}}}
]},
{"width":248,"height":198,"layer":[
{"data":{"values":[
{"c":1,"x":510,"y":106},{"c":1,"x":514,"y":70},{"c":1,"x":517,"y":48},{"c":1,"x":521,"y":62},{"c":1,"x":525,"y":90},{"c":1,"x":530,"y":118},{"c":1,"x":535,"y":130},{"c":1,"x":539,"y":131},{"c":1,"x":544,"y":124},{"c":1,"x":550,"y":110},{"c":1,"x":557,"y":92},{"c":1,"x":566,"y":70},{"c":1,"x":577,"y":47},{"c":1,"x":590,"y":28},{"c":1,"x":605,"y":14},{"c":1,"x":625,"y":4.5},{"c":1,"x":651,"y":1},
{"c":2,"x":510,"y":104},{"c":2,"x":514,"y":66},{"c":2,"x":517,"y":44},{"c":2,"x":521,"y":57},{"c":2,"x":525,"y":81},{"c":2,"x":530,"y":105},{"c":2,"x":535,"y":115},{"c":2,"x":539,"y":116},{"c":2,"x":544,"y":110},{"c":2,"x":550,"y":98},{"c":2,"x":557,"y":83},{"c":2,"x":566,"y":64},{"c":2,"x":577,"y":44},{"c":2,"x":590,"y":27},{"c":2,"x":605,"y":13.5},{"c":2,"x":625,"y":4.3},{"c":2,"x":651,"y":1},
{"c":3,"x":510,"y":102},{"c":3,"x":514,"y":62},{"c":3,"x":517,"y":40},{"c":3,"x":521,"y":51},{"c":3,"x":525,"y":72},{"c":3,"x":530,"y":92},{"c":3,"x":535,"y":101},{"c":3,"x":539,"y":102},{"c":3,"x":544,"y":97},{"c":3,"x":550,"y":87},{"c":3,"x":557,"y":74},{"c":3,"x":566,"y":58},{"c":3,"x":577,"y":41},{"c":3,"x":590,"y":26},{"c":3,"x":605,"y":13},{"c":3,"x":625,"y":4.2},{"c":3,"x":651,"y":1},
{"c":4,"x":510,"y":100},{"c":4,"x":514,"y":60},{"c":4,"x":517,"y":38},{"c":4,"x":521,"y":49},{"c":4,"x":525,"y":68},{"c":4,"x":530,"y":88},{"c":4,"x":535,"y":96},{"c":4,"x":539,"y":97},{"c":4,"x":544,"y":93},{"c":4,"x":550,"y":83},{"c":4,"x":557,"y":71},{"c":4,"x":566,"y":56},{"c":4,"x":577,"y":40},{"c":4,"x":590,"y":25.5},{"c":4,"x":605,"y":13},{"c":4,"x":625,"y":4.2},{"c":4,"x":651,"y":1},
{"c":5,"x":510,"y":98},{"c":5,"x":514,"y":58},{"c":5,"x":517,"y":36},{"c":5,"x":521,"y":47},{"c":5,"x":525,"y":65},{"c":5,"x":530,"y":84},{"c":5,"x":535,"y":92},{"c":5,"x":539,"y":93},{"c":5,"x":544,"y":89},{"c":5,"x":550,"y":80},{"c":5,"x":557,"y":68},{"c":5,"x":566,"y":54},{"c":5,"x":577,"y":39},{"c":5,"x":590,"y":25},{"c":5,"x":605,"y":13},{"c":5,"x":625,"y":4.1},{"c":5,"x":651,"y":1},
{"c":6,"x":510,"y":96},{"c":6,"x":514,"y":56},{"c":6,"x":517,"y":34},{"c":6,"x":521,"y":45},{"c":6,"x":525,"y":62},{"c":6,"x":530,"y":80},{"c":6,"x":535,"y":88},{"c":6,"x":539,"y":89},{"c":6,"x":544,"y":85},{"c":6,"x":550,"y":77},{"c":6,"x":557,"y":66},{"c":6,"x":566,"y":53},{"c":6,"x":577,"y":38.5},{"c":6,"x":590,"y":25},{"c":6,"x":605,"y":12.8},{"c":6,"x":625,"y":4.1},{"c":6,"x":651,"y":1},
{"c":7,"x":510,"y":94},{"c":7,"x":514,"y":54},{"c":7,"x":517,"y":32},{"c":7,"x":521,"y":42},{"c":7,"x":525,"y":59},{"c":7,"x":530,"y":77},{"c":7,"x":535,"y":85},{"c":7,"x":539,"y":86},{"c":7,"x":544,"y":82},{"c":7,"x":550,"y":74},{"c":7,"x":557,"y":64},{"c":7,"x":566,"y":52},{"c":7,"x":577,"y":38},{"c":7,"x":590,"y":24.5},{"c":7,"x":605,"y":12.7},{"c":7,"x":625,"y":4},{"c":7,"x":651,"y":1},
{"c":8,"x":510,"y":92},{"c":8,"x":514,"y":52},{"c":8,"x":517,"y":30},{"c":8,"x":521,"y":40},{"c":8,"x":525,"y":56},{"c":8,"x":530,"y":73},{"c":8,"x":535,"y":81},{"c":8,"x":539,"y":82},{"c":8,"x":544,"y":79},{"c":8,"x":550,"y":72},{"c":8,"x":557,"y":62},{"c":8,"x":566,"y":51},{"c":8,"x":577,"y":37.5},{"c":8,"x":590,"y":24.2},{"c":8,"x":605,"y":12.6},{"c":8,"x":625,"y":4},{"c":8,"x":651,"y":1},
{"c":9,"x":510,"y":90},{"c":9,"x":514,"y":50},{"c":9,"x":517,"y":29},{"c":9,"x":521,"y":38},{"c":9,"x":525,"y":53},{"c":9,"x":530,"y":70},{"c":9,"x":535,"y":79},{"c":9,"x":539,"y":80},{"c":9,"x":544,"y":77},{"c":9,"x":550,"y":70},{"c":9,"x":557,"y":61},{"c":9,"x":566,"y":50},{"c":9,"x":577,"y":37},{"c":9,"x":590,"y":24},{"c":9,"x":605,"y":12.5},{"c":9,"x":625,"y":4},{"c":9,"x":651,"y":1}
]},"mark":"line","encoding":{"x":{"field":"x","type":"quantitative","scale":{"domain":[510,651],"nice":false,"zero":false},"axis":{"values":[510,540,570,600,630],"labelFont":"Liberation Sans","labelFontSize":11,"title":null}},"y":{"field":"y","type":"quantitative","scale":{"domain":[-6,152],"nice":false,"zero":false},"axis":{"values":[37.5,75,112.5],"labels":false,"title":null}},"detail":{"field":"c","type":"nominal"}}},
{"data":{"values":[{}]},"mark":"rule","encoding":{"x":{"datum":558.5},"y":{"datum":124},"y2":{"datum":102}}},
{"data":{"values":[{}]},"mark":"point","encoding":{"x":{"datum":558.5},"y":{"datum":103.5}}},
{"data":{"values":[{}]},"mark":{"type":"text","align":"right"},"encoding":{"x":{"datum":608.9},"y":{"datum":125.7},"text":{"value":"ALMG+"}}},
{"data":{"values":[{}]},"mark":{"type":"text","align":"left","fontStyle":"italic"},"encoding":{"x":{"datum":608.9},"y":{"datum":125.7},"text":{"value":"c-MYC"}}}
]},
{"width":248,"height":198,"layer":[
{"data":{"values":[
{"c":1,"x":510,"y":70},{"c":1,"x":516,"y":98},{"c":1,"x":522,"y":120},{"c":1,"x":530,"y":127},{"c":1,"x":538,"y":118},{"c":1,"x":546,"y":100},{"c":1,"x":554,"y":87},{"c":1,"x":562,"y":78},{"c":1,"x":570,"y":68},{"c":1,"x":580,"y":52},{"c":1,"x":592,"y":36},{"c":1,"x":606,"y":23},{"c":1,"x":622,"y":14},{"c":1,"x":640,"y":7.5},{"c":1,"x":660,"y":3.5},
{"c":2,"x":510,"y":66},{"c":2,"x":516,"y":93},{"c":2,"x":522,"y":114},{"c":2,"x":530,"y":121},{"c":2,"x":538,"y":113},{"c":2,"x":546,"y":96},{"c":2,"x":554,"y":84},{"c":2,"x":562,"y":75},{"c":2,"x":570,"y":66},{"c":2,"x":580,"y":51},{"c":2,"x":592,"y":35.5},{"c":2,"x":606,"y":22.8},{"c":2,"x":622,"y":14},{"c":2,"x":640,"y":7.5},{"c":2,"x":660,"y":3.5},
{"c":3,"x":510,"y":62},{"c":3,"x":516,"y":89},{"c":3,"x":522,"y":110},{"c":3,"x":530,"y":117},{"c":3,"x":538,"y":109},{"c":3,"x":546,"y":93},{"c":3,"x":554,"y":81},{"c":3,"x":562,"y":73},{"c":3,"x":570,"y":64},{"c":3,"x":580,"y":50},{"c":3,"x":592,"y":35},{"c":3,"x":606,"y":22.5},{"c":3,"x":622,"y":13.8},{"c":3,"x":640,"y":7.4},{"c":3,"x":660,"y":3.5},
{"c":4,"x":510,"y":58},{"c":4,"x":516,"y":85},{"c":4,"x":522,"y":106},{"c":4,"x":530,"y":114},{"c":4,"x":538,"y":107},{"c":4,"x":546,"y":91},{"c":4,"x":554,"y":79},{"c":4,"x":562,"y":71},{"c":4,"x":570,"y":62},{"c":4,"x":580,"y":49},{"c":4,"x":592,"y":34.5},{"c":4,"x":606,"y":22.3},{"c":4,"x":622,"y":13.7},{"c":4,"x":640,"y":7.3},{"c":4,"x":660,"y":3.4},
{"c":5,"x":510,"y":54},{"c":5,"x":516,"y":80},{"c":5,"x":522,"y":101},{"c":5,"x":530,"y":109},{"c":5,"x":538,"y":103},{"c":5,"x":546,"y":88},{"c":5,"x":554,"y":77},{"c":5,"x":562,"y":68},{"c":5,"x":570,"y":60},{"c":5,"x":580,"y":47.5},{"c":5,"x":592,"y":34},{"c":5,"x":606,"y":22},{"c":5,"x":622,"y":13.6},{"c":5,"x":640,"y":7.3},{"c":5,"x":660,"y":3.4},
{"c":6,"x":510,"y":50},{"c":6,"x":516,"y":75},{"c":6,"x":522,"y":95},{"c":6,"x":530,"y":103},{"c":6,"x":538,"y":98},{"c":6,"x":546,"y":85},{"c":6,"x":554,"y":74},{"c":6,"x":562,"y":65},{"c":6,"x":570,"y":57},{"c":6,"x":580,"y":46},{"c":6,"x":592,"y":33},{"c":6,"x":606,"y":21.7},{"c":6,"x":622,"y":13.5},{"c":6,"x":640,"y":7.2},{"c":6,"x":660,"y":3.3},
{"c":7,"x":510,"y":45},{"c":7,"x":516,"y":68},{"c":7,"x":522,"y":87},{"c":7,"x":530,"y":94},{"c":7,"x":538,"y":90},{"c":7,"x":546,"y":80},{"c":7,"x":554,"y":70},{"c":7,"x":562,"y":61},{"c":7,"x":570,"y":54},{"c":7,"x":580,"y":44},{"c":7,"x":592,"y":32},{"c":7,"x":606,"y":21.5},{"c":7,"x":622,"y":13.4},{"c":7,"x":640,"y":7.1},{"c":7,"x":660,"y":3.3},
{"c":8,"x":510,"y":42},{"c":8,"x":516,"y":65},{"c":8,"x":522,"y":85},{"c":8,"x":530,"y":93},{"c":8,"x":538,"y":89},{"c":8,"x":546,"y":79},{"c":8,"x":554,"y":69},{"c":8,"x":562,"y":60},{"c":8,"x":570,"y":53},{"c":8,"x":580,"y":43},{"c":8,"x":592,"y":31.5},{"c":8,"x":606,"y":21.3},{"c":8,"x":622,"y":13.3},{"c":8,"x":640,"y":7},{"c":8,"x":660,"y":3.2}
]},"mark":"line","encoding":{"x":{"field":"x","type":"quantitative","scale":{"domain":[510,660],"nice":false,"zero":false},"axis":{"values":[510,540,570,600,630,660],"title":null}},"y":{"field":"y","type":"quantitative","scale":{"domain":[-6,152],"nice":false,"zero":false},"axis":{"values":[37.5,75,112.5],"labels":false,"title":null}},"detail":{"field":"c","type":"nominal"}}},
{"data":{"values":[{}]},"mark":"rule","encoding":{"x":{"datum":546.8},"y":{"datum":134},"y2":{"datum":108}}},
{"data":{"values":[{}]},"mark":"point","encoding":{"x":{"datum":546.8},"y":{"datum":109.5}}},
{"data":{"values":[{}]},"mark":{"type":"text","align":"right"},"encoding":{"x":{"datum":609.2},"y":{"datum":125.7},"text":{"value":"ALMG+"}}},
{"data":{"values":[{}]},"mark":{"type":"text","align":"left","fontStyle":"italic"},"encoding":{"x":{"datum":609.2},"y":{"datum":125.7},"text":{"value":"HUMTEL"}}}
]},
{"width":248,"height":198,"layer":[
{"data":{"values":[
{"c":1,"x":510,"y":22},{"c":1,"x":515,"y":45},{"c":1,"x":520,"y":80},{"c":1,"x":525,"y":110},{"c":1,"x":529,"y":123},{"c":1,"x":533,"y":126},{"c":1,"x":537,"y":122},{"c":1,"x":542,"y":110},{"c":1,"x":548,"y":93},{"c":1,"x":555,"y":75},{"c":1,"x":563,"y":57},{"c":1,"x":572,"y":40},{"c":1,"x":583,"y":26},{"c":1,"x":596,"y":14},{"c":1,"x":612,"y":6},{"c":1,"x":630,"y":2},{"c":1,"x":650,"y":0.5},
{"c":2,"x":510,"y":20},{"c":2,"x":515,"y":41},{"c":2,"x":520,"y":72},{"c":2,"x":525,"y":100},{"c":2,"x":529,"y":111},{"c":2,"x":533,"y":114},{"c":2,"x":537,"y":110},{"c":2,"x":542,"y":100},{"c":2,"x":548,"y":85},{"c":2,"x":555,"y":69},{"c":2,"x":563,"y":53},{"c":2,"x":572,"y":37.5},{"c":2,"x":583,"y":24.5},{"c":2,"x":596,"y":13.5},{"c":2,"x":612,"y":5.8},{"c":2,"x":630,"y":2},{"c":2,"x":650,"y":0.5},
{"c":3,"x":510,"y":18.5},{"c":3,"x":515,"y":38},{"c":3,"x":520,"y":66},{"c":3,"x":525,"y":91},{"c":3,"x":529,"y":101},{"c":3,"x":533,"y":104},{"c":3,"x":537,"y":101},{"c":3,"x":542,"y":92},{"c":3,"x":548,"y":78},{"c":3,"x":555,"y":64},{"c":3,"x":563,"y":49},{"c":3,"x":572,"y":35},{"c":3,"x":583,"y":23},{"c":3,"x":596,"y":12.8},{"c":3,"x":612,"y":5.5},{"c":3,"x":630,"y":1.9},{"c":3,"x":650,"y":0.5},
{"c":4,"x":510,"y":17},{"c":4,"x":515,"y":34},{"c":4,"x":520,"y":59},{"c":4,"x":525,"y":81},{"c":4,"x":529,"y":90},{"c":4,"x":533,"y":92},{"c":4,"x":537,"y":89},{"c":4,"x":542,"y":82},{"c":4,"x":548,"y":70},{"c":4,"x":555,"y":57},{"c":4,"x":563,"y":44.5},{"c":4,"x":572,"y":32},{"c":4,"x":583,"y":21.5},{"c":4,"x":596,"y":12},{"c":4,"x":612,"y":5.2},{"c":4,"x":630,"y":1.8},{"c":4,"x":650,"y":0.5},
{"c":5,"x":510,"y":15},{"c":5,"x":515,"y":30},{"c":5,"x":520,"y":53},{"c":5,"x":525,"y":73},{"c":5,"x":529,"y":81},{"c":5,"x":533,"y":83},{"c":5,"x":537,"y":81},{"c":5,"x":542,"y":74},{"c":5,"x":548,"y":64},{"c":5,"x":555,"y":52},{"c":5,"x":563,"y":41},{"c":5,"x":572,"y":30},{"c":5,"x":583,"y":20},{"c":5,"x":596,"y":11.3},{"c":5,"x":612,"y":5},{"c":5,"x":630,"y":1.7},{"c":5,"x":650,"y":0.5},
{"c":6,"x":510,"y":14},{"c":6,"x":515,"y":29},{"c":6,"x":520,"y":50},{"c":6,"x":525,"y":69},{"c":6,"x":529,"y":77},{"c":6,"x":533,"y":79},{"c":6,"x":537,"y":77},{"c":6,"x":542,"y":70.5},{"c":6,"x":548,"y":61},{"c":6,"x":555,"y":50},{"c":6,"x":563,"y":39.5},{"c":6,"x":572,"y":29},{"c":6,"x":583,"y":19.5},{"c":6,"x":596,"y":11},{"c":6,"x":612,"y":4.8},{"c":6,"x":630,"y":1.6},{"c":6,"x":650,"y":0.5},
{"c":7,"x":510,"y":13.5},{"c":7,"x":515,"y":28},{"c":7,"x":520,"y":48.5},{"c":7,"x":525,"y":67},{"c":7,"x":529,"y":75},{"c":7,"x":533,"y":76.6},{"c":7,"x":537,"y":75},{"c":7,"x":542,"y":68.5},{"c":7,"x":548,"y":59},{"c":7,"x":555,"y":48.5},{"c":7,"x":563,"y":38.5},{"c":7,"x":572,"y":28},{"c":7,"x":583,"y":19},{"c":7,"x":596,"y":10.6},{"c":7,"x":612,"y":4.7},{"c":7,"x":630,"y":1.6},{"c":7,"x":650,"y":0.5},
{"c":8,"x":510,"y":12.5},{"c":8,"x":515,"y":27},{"c":8,"x":520,"y":46.5},{"c":8,"x":525,"y":64},{"c":8,"x":529,"y":72},{"c":8,"x":533,"y":73.5},{"c":8,"x":537,"y":72},{"c":8,"x":542,"y":66},{"c":8,"x":548,"y":57},{"c":8,"x":555,"y":47},{"c":8,"x":563,"y":37.5},{"c":8,"x":572,"y":27.5},{"c":8,"x":583,"y":18.5},{"c":8,"x":596,"y":10.3},{"c":8,"x":612,"y":4.6},{"c":8,"x":630,"y":1.5},{"c":8,"x":650,"y":0.5},
{"c":9,"x":510,"y":12},{"c":9,"x":515,"y":26},{"c":9,"x":520,"y":46},{"c":9,"x":525,"y":63},{"c":9,"x":529,"y":71},{"c":9,"x":533,"y":72.6},{"c":9,"x":537,"y":71},{"c":9,"x":542,"y":65},{"c":9,"x":548,"y":56},{"c":9,"x":555,"y":46},{"c":9,"x":563,"y":37},{"c":9,"x":572,"y":27},{"c":9,"x":583,"y":18},{"c":9,"x":596,"y":10},{"c":9,"x":612,"y":4.5},{"c":9,"x":630,"y":1.5},{"c":9,"x":650,"y":0.5}
]},"mark":"line","encoding":{"x":{"field":"x","type":"quantitative","scale":{"domain":[510,650],"nice":false,"zero":false},"axis":{"values":[510,540,570,600,630],"labelFont":"Liberation Sans","labelFontSize":11,"title":null}},"y":{"field":"y","type":"quantitative","scale":{"domain":[-6,152],"nice":false,"zero":false},"axis":{"values":[37.5,75,112.5],"labels":false,"title":null}},"detail":{"field":"c","type":"nominal"}}},
{"data":{"values":[{}]},"mark":{"type":"text","align":"right"},"encoding":{"x":{"datum":608.8},"y":{"datum":125.7},"text":{"value":"ALMG+"}}},
{"data":{"values":[{}]},"mark":{"type":"text","align":"left","fontStyle":"italic"},"encoding":{"x":{"datum":608.8},"y":{"datum":125.7},"text":{"value":"BCL-2"}}}
]},
{"width":248,"height":198,"layer":[
{"data":{"values":[
{"c":1,"x":510,"y":56},{"c":1,"x":516,"y":85},{"c":1,"x":522,"y":112},{"c":1,"x":528,"y":127},{"c":1,"x":533,"y":131},{"c":1,"x":539,"y":126},{"c":1,"x":546,"y":112},{"c":1,"x":554,"y":98},{"c":1,"x":562,"y":86},{"c":1,"x":572,"y":72},{"c":1,"x":584,"y":52},{"c":1,"x":598,"y":32},{"c":1,"x":614,"y":17},{"c":1,"x":632,"y":8},{"c":1,"x":660,"y":2},
{"c":2,"x":510,"y":50},{"c":2,"x":516,"y":78},{"c":2,"x":522,"y":101},{"c":2,"x":528,"y":113},{"c":2,"x":533,"y":116.5},{"c":2,"x":539,"y":113},{"c":2,"x":546,"y":101},{"c":2,"x":554,"y":89},{"c":2,"x":562,"y":79},{"c":2,"x":572,"y":67},{"c":2,"x":584,"y":49},{"c":2,"x":598,"y":30.5},{"c":2,"x":614,"y":16.5},{"c":2,"x":632,"y":7.8},{"c":2,"x":660,"y":2},
{"c":3,"x":510,"y":46},{"c":3,"x":516,"y":73},{"c":3,"x":522,"y":96},{"c":3,"x":528,"y":108},{"c":3,"x":533,"y":112},{"c":3,"x":539,"y":109},{"c":3,"x":546,"y":98},{"c":3,"x":554,"y":86},{"c":3,"x":562,"y":77},{"c":3,"x":572,"y":65},{"c":3,"x":584,"y":47.5},{"c":3,"x":598,"y":29.5},{"c":3,"x":614,"y":16},{"c":3,"x":632,"y":7.6},{"c":3,"x":660,"y":2},
{"c":4,"x":510,"y":42},{"c":4,"x":516,"y":69},{"c":4,"x":522,"y":92},{"c":4,"x":528,"y":104},{"c":4,"x":533,"y":108.5},{"c":4,"x":539,"y":106},{"c":4,"x":546,"y":95},{"c":4,"x":554,"y":84},{"c":4,"x":562,"y":75},{"c":4,"x":572,"y":63},{"c":4,"x":584,"y":46},{"c":4,"x":598,"y":29},{"c":4,"x":614,"y":15.5},{"c":4,"x":632,"y":7.4},{"c":4,"x":660,"y":2},
{"c":5,"x":510,"y":38},{"c":5,"x":516,"y":64},{"c":5,"x":522,"y":87},{"c":5,"x":528,"y":99},{"c":5,"x":533,"y":104},{"c":5,"x":539,"y":102},{"c":5,"x":546,"y":91},{"c":5,"x":554,"y":81},{"c":5,"x":562,"y":72},{"c":5,"x":572,"y":61},{"c":5,"x":584,"y":44.5},{"c":5,"x":598,"y":28},{"c":5,"x":614,"y":15},{"c":5,"x":632,"y":7.2},{"c":5,"x":660,"y":1.8},
{"c":6,"x":510,"y":35},{"c":6,"x":516,"y":60},{"c":6,"x":522,"y":83},{"c":6,"x":528,"y":95},{"c":6,"x":533,"y":100},{"c":6,"x":539,"y":98},{"c":6,"x":546,"y":88},{"c":6,"x":554,"y":78},{"c":6,"x":562,"y":70},{"c":6,"x":572,"y":59},{"c":6,"x":584,"y":43},{"c":6,"x":598,"y":27},{"c":6,"x":614,"y":14.5},{"c":6,"x":632,"y":7},{"c":6,"x":660,"y":1.8},
{"c":7,"x":510,"y":32},{"c":7,"x":516,"y":55},{"c":7,"x":522,"y":77},{"c":7,"x":528,"y":89},{"c":7,"x":533,"y":94},{"c":7,"x":539,"y":92},{"c":7,"x":546,"y":83},{"c":7,"x":554,"y":74},{"c":7,"x":562,"y":66},{"c":7,"x":572,"y":56},{"c":7,"x":584,"y":41},{"c":7,"x":598,"y":25.5},{"c":7,"x":614,"y":14},{"c":7,"x":632,"y":6.5},{"c":7,"x":660,"y":1.7},
{"c":8,"x":510,"y":30},{"c":8,"x":516,"y":52},{"c":8,"x":522,"y":72},{"c":8,"x":528,"y":85},{"c":8,"x":533,"y":90},{"c":8,"x":539,"y":88},{"c":8,"x":546,"y":80},{"c":8,"x":554,"y":71},{"c":8,"x":562,"y":64},{"c":8,"x":572,"y":54.5},{"c":8,"x":584,"y":40},{"c":8,"x":598,"y":25},{"c":8,"x":614,"y":13.5},{"c":8,"x":632,"y":6.2},{"c":8,"x":660,"y":1.6},
{"c":9,"x":510,"y":28},{"c":9,"x":516,"y":48},{"c":9,"x":522,"y":68},{"c":9,"x":528,"y":81},{"c":9,"x":533,"y":86},{"c":9,"x":539,"y":84},{"c":9,"x":546,"y":77},{"c":9,"x":554,"y":69},{"c":9,"x":562,"y":62},{"c":9,"x":572,"y":53},{"c":9,"x":584,"y":39},{"c":9,"x":598,"y":24},{"c":9,"x":614,"y":13},{"c":9,"x":632,"y":6},{"c":9,"x":660,"y":1.5}
]},"mark":"line","encoding":{"x":{"field":"x","type":"quantitative","scale":{"domain":[510,660],"nice":false,"zero":false},"axis":{"values":[510,540,570,600,630,660],"title":null}},"y":{"field":"y","type":"quantitative","scale":{"domain":[-6,152],"nice":false,"zero":false},"axis":{"values":[37.5,75,112.5],"labels":false,"title":null}},"detail":{"field":"c","type":"nominal"}}},
{"data":{"values":[{}]},"mark":"rule","encoding":{"x":{"datum":552},"y":{"datum":134},"y2":{"datum":102}}},
{"data":{"values":[{}]},"mark":"point","encoding":{"x":{"datum":552},"y":{"datum":103.5}}},
{"data":{"values":[{}]},"mark":{"type":"text","align":"right"},"encoding":{"x":{"datum":613.4},"y":{"datum":121},"text":{"value":"ALMG+"}}},
{"data":{"values":[{}]},"mark":{"type":"text","align":"left","fontStyle":"italic"},"encoding":{"x":{"datum":613.4},"y":{"datum":121},"text":{"value":"KRAS"}}}
]},
{"width":248,"height":198,"layer":[
{"data":{"values":[
{"c":1,"x":510,"y":57},{"c":1,"x":516,"y":88},{"c":1,"x":522,"y":110},{"c":1,"x":530,"y":120},{"c":1,"x":537,"y":113},{"c":1,"x":544,"y":97},{"c":1,"x":552,"y":82},{"c":1,"x":560,"y":72},{"c":1,"x":566,"y":65},{"c":1,"x":575,"y":55},{"c":1,"x":586,"y":43},{"c":1,"x":600,"y":30},{"c":1,"x":615,"y":18},{"c":1,"x":635,"y":8},{"c":1,"x":660,"y":2},
{"c":2,"x":510,"y":53},{"c":2,"x":516,"y":82},{"c":2,"x":522,"y":103},{"c":2,"x":530,"y":112.5},{"c":2,"x":537,"y":107},{"c":2,"x":544,"y":92},{"c":2,"x":552,"y":78},{"c":2,"x":560,"y":69},{"c":2,"x":566,"y":62.5},{"c":2,"x":575,"y":53},{"c":2,"x":586,"y":42},{"c":2,"x":600,"y":29.5},{"c":2,"x":615,"y":17.5},{"c":2,"x":635,"y":8},{"c":2,"x":660,"y":2},
{"c":3,"x":510,"y":49},{"c":3,"x":516,"y":77},{"c":3,"x":522,"y":97},{"c":3,"x":530,"y":106},{"c":3,"x":537,"y":101},{"c":3,"x":544,"y":88},{"c":3,"x":552,"y":75},{"c":3,"x":560,"y":66.5},{"c":3,"x":566,"y":60},{"c":3,"x":575,"y":51.5},{"c":3,"x":586,"y":41},{"c":3,"x":600,"y":29},{"c":3,"x":615,"y":17},{"c":3,"x":635,"y":7.8},{"c":3,"x":660,"y":2},
{"c":4,"x":510,"y":45},{"c":4,"x":516,"y":71},{"c":4,"x":522,"y":90},{"c":4,"x":530,"y":98},{"c":4,"x":537,"y":94},{"c":4,"x":544,"y":83},{"c":4,"x":552,"y":71},{"c":4,"x":560,"y":63},{"c":4,"x":566,"y":57.5},{"c":4,"x":575,"y":49},{"c":4,"x":586,"y":39.5},{"c":4,"x":600,"y":28},{"c":4,"x":615,"y":16.8},{"c":4,"x":635,"y":7.7},{"c":4,"x":660,"y":2},
{"c":5,"x":510,"y":42},{"c":5,"x":516,"y":68},{"c":5,"x":522,"y":86},{"c":5,"x":530,"y":94},{"c":5,"x":537,"y":91},{"c":5,"x":544,"y":81},{"c":5,"x":552,"y":69.5},{"c":5,"x":560,"y":61.5},{"c":5,"x":566,"y":56},{"c":5,"x":575,"y":48},{"c":5,"x":586,"y":38.5},{"c":5,"x":600,"y":27.5},{"c":5,"x":615,"y":16.6},{"c":5,"x":635,"y":7.6},{"c":5,"x":660,"y":2},
{"c":6,"x":510,"y":40},{"c":6,"x":516,"y":66},{"c":6,"x":522,"y":84},{"c":6,"x":530,"y":92.6},{"c":6,"x":537,"y":89},{"c":6,"x":544,"y":79},{"c":6,"x":552,"y":68},{"c":6,"x":560,"y":60},{"c":6,"x":566,"y":55},{"c":6,"x":575,"y":47},{"c":6,"x":586,"y":38},{"c":6,"x":600,"y":27},{"c":6,"x":615,"y":16.5},{"c":6,"x":635,"y":7.5},{"c":6,"x":660,"y":2},
{"c":7,"x":510,"y":38},{"c":7,"x":516,"y":64},{"c":7,"x":522,"y":82},{"c":7,"x":530,"y":91},{"c":7,"x":537,"y":88},{"c":7,"x":544,"y":78},{"c":7,"x":552,"y":67},{"c":7,"x":560,"y":59},{"c":7,"x":566,"y":54},{"c":7,"x":575,"y":46.5},{"c":7,"x":586,"y":37.5},{"c":7,"x":600,"y":26.5},{"c":7,"x":615,"y":16.3},{"c":7,"x":635,"y":7.4},{"c":7,"x":660,"y":2}
]},"mark":"line","encoding":{"x":{"field":"x","type":"quantitative","scale":{"domain":[510,660],"nice":false,"zero":false},"axis":{"values":[510,540,570,600,630,660],"title":null}},"y":{"field":"y","type":"quantitative","scale":{"domain":[-6,152],"nice":false,"zero":false},"axis":{"values":[37.5,75,112.5],"labels":false,"title":null}},"detail":{"field":"c","type":"nominal"}}},
{"data":{"values":[{}]},"mark":"rule","encoding":{"x":{"datum":545},"y":{"datum":122},"y2":{"datum":100}}},
{"data":{"values":[{}]},"mark":"point","encoding":{"x":{"datum":545},"y":{"datum":101.5}}},
{"data":{"values":[{}]},"mark":{"type":"text","align":"right"},"encoding":{"x":{"datum":615.8},"y":{"datum":118.5},"text":{"value":"ALMG+"}}},
{"data":{"values":[{}]},"mark":{"type":"text","align":"left","fontStyle":"italic"},"encoding":{"x":{"datum":615.8},"y":{"datum":118.5},"text":{"value":"VEGF"}}}
]},
{"width":248,"height":198,"layer":[
{"data":{"values":[
{"c":1,"x":510,"y":55},{"c":1,"x":514,"y":58},{"c":1,"x":519,"y":90},{"c":1,"x":524,"y":125},{"c":1,"x":530,"y":138},{"c":1,"x":536,"y":130},{"c":1,"x":543,"y":114},{"c":1,"x":551,"y":100},{"c":1,"x":560,"y":88},{"c":1,"x":570,"y":74},{"c":1,"x":582,"y":56},{"c":1,"x":596,"y":38},{"c":1,"x":612,"y":24},{"c":1,"x":630,"y":13},{"c":1,"x":660,"y":3},
{"c":2,"x":510,"y":52},{"c":2,"x":514,"y":55},{"c":2,"x":519,"y":86},{"c":2,"x":524,"y":117},{"c":2,"x":530,"y":128},{"c":2,"x":536,"y":122},{"c":2,"x":543,"y":106},{"c":2,"x":551,"y":93},{"c":2,"x":560,"y":82},{"c":2,"x":570,"y":68},{"c":2,"x":582,"y":51},{"c":2,"x":596,"y":35.5},{"c":2,"x":612,"y":22.5},{"c":2,"x":630,"y":12.5},{"c":2,"x":660,"y":3},
{"c":3,"x":510,"y":50},{"c":3,"x":514,"y":53},{"c":3,"x":519,"y":83},{"c":3,"x":524,"y":112},{"c":3,"x":530,"y":123},{"c":3,"x":536,"y":118},{"c":3,"x":543,"y":102},{"c":3,"x":551,"y":90},{"c":3,"x":560,"y":79},{"c":3,"x":570,"y":65},{"c":3,"x":582,"y":49},{"c":3,"x":596,"y":34.5},{"c":3,"x":612,"y":22},{"c":3,"x":630,"y":12.2},{"c":3,"x":660,"y":3},
{"c":4,"x":510,"y":49},{"c":4,"x":514,"y":51},{"c":4,"x":519,"y":81},{"c":4,"x":524,"y":108},{"c":4,"x":530,"y":119},{"c":4,"x":536,"y":114},{"c":4,"x":543,"y":99},{"c":4,"x":551,"y":87},{"c":4,"x":560,"y":77},{"c":4,"x":570,"y":63},{"c":4,"x":582,"y":47},{"c":4,"x":596,"y":33.5},{"c":4,"x":612,"y":21.5},{"c":4,"x":630,"y":12},{"c":4,"x":660,"y":2.8},
{"c":5,"x":510,"y":47},{"c":5,"x":514,"y":49},{"c":5,"x":519,"y":78},{"c":5,"x":524,"y":104},{"c":5,"x":530,"y":114.6},{"c":5,"x":536,"y":110},{"c":5,"x":543,"y":96},{"c":5,"x":551,"y":85},{"c":5,"x":560,"y":75},{"c":5,"x":570,"y":61},{"c":5,"x":582,"y":45},{"c":5,"x":596,"y":32.5},{"c":5,"x":612,"y":21},{"c":5,"x":630,"y":11.6},{"c":5,"x":660,"y":2.7},
{"c":6,"x":510,"y":46},{"c":6,"x":514,"y":48},{"c":6,"x":519,"y":76},{"c":6,"x":524,"y":102},{"c":6,"x":530,"y":112},{"c":6,"x":536,"y":108},{"c":6,"x":543,"y":94.5},{"c":6,"x":551,"y":83.5},{"c":6,"x":560,"y":73.5},{"c":6,"x":570,"y":59.5},{"c":6,"x":582,"y":44},{"c":6,"x":596,"y":31.8},{"c":6,"x":612,"y":20.5},{"c":6,"x":630,"y":11.3},{"c":6,"x":660,"y":2.6},
{"c":7,"x":510,"y":45},{"c":7,"x":514,"y":47},{"c":7,"x":519,"y":75},{"c":7,"x":524,"y":100},{"c":7,"x":530,"y":110},{"c":7,"x":536,"y":106},{"c":7,"x":543,"y":93},{"c":7,"x":551,"y":82},{"c":7,"x":560,"y":72},{"c":7,"x":570,"y":58},{"c":7,"x":582,"y":43},{"c":7,"x":596,"y":31},{"c":7,"x":612,"y":20},{"c":7,"x":630,"y":11},{"c":7,"x":660,"y":2.5}
]},"mark":"line","encoding":{"x":{"field":"x","type":"quantitative","scale":{"domain":[510,660],"nice":false,"zero":false},"axis":{"values":[510,540,570,600,630,660],"title":null}},"y":{"field":"y","type":"quantitative","scale":{"domain":[-6,156],"nice":false,"zero":false},"axis":{"values":[0,75,150],"tickSize":0,"title":null}},"detail":{"field":"c","type":"nominal"}}},
{"data":{"values":[{}]},"mark":"rule","encoding":{"x":{"datum":548},"y":{"datum":135},"y2":{"datum":119}}},
{"data":{"values":[{}]},"mark":"point","encoding":{"x":{"datum":548},"y":{"datum":120.5}}},
{"data":{"values":[{}]},"mark":{"type":"text","align":"right"},"encoding":{"x":{"datum":617},"y":{"datum":130},"text":{"value":"ALN+"}}},
{"data":{"values":[{}]},"mark":{"type":"text","align":"left","fontStyle":"italic"},"encoding":{"x":{"datum":617},"y":{"datum":130},"text":{"value":"c-KIT"}}}
]},
{"width":248,"height":198,"layer":[
{"data":{"values":[
{"c":1,"x":510,"y":70},{"c":1,"x":515,"y":88},{"c":1,"x":521,"y":115},{"c":1,"x":528,"y":131},{"c":1,"x":535,"y":124},{"c":1,"x":542,"y":110},{"c":1,"x":550,"y":96},{"c":1,"x":558,"y":84},{"c":1,"x":567,"y":74},{"c":1,"x":578,"y":60},{"c":1,"x":590,"y":44},{"c":1,"x":604,"y":29},{"c":1,"x":620,"y":17},{"c":1,"x":638,"y":8},{"c":1,"x":660,"y":2},
{"c":2,"x":510,"y":68},{"c":2,"x":515,"y":86},{"c":2,"x":521,"y":111},{"c":2,"x":528,"y":126.5},{"c":2,"x":535,"y":120},{"c":2,"x":542,"y":107},{"c":2,"x":550,"y":93},{"c":2,"x":558,"y":82},{"c":2,"x":567,"y":72},{"c":2,"x":578,"y":58},{"c":2,"x":590,"y":42.5},{"c":2,"x":604,"y":28},{"c":2,"x":620,"y":16.5},{"c":2,"x":638,"y":7.8},{"c":2,"x":660,"y":2},
{"c":3,"x":510,"y":66},{"c":3,"x":515,"y":83},{"c":3,"x":521,"y":107},{"c":3,"x":528,"y":121},{"c":3,"x":535,"y":115},{"c":3,"x":542,"y":102},{"c":3,"x":550,"y":89},{"c":3,"x":558,"y":79},{"c":3,"x":567,"y":70},{"c":3,"x":578,"y":56},{"c":3,"x":590,"y":41},{"c":3,"x":604,"y":27},{"c":3,"x":620,"y":16},{"c":3,"x":638,"y":7.6},{"c":3,"x":660,"y":2},
{"c":4,"x":510,"y":64},{"c":4,"x":515,"y":80},{"c":4,"x":521,"y":101},{"c":4,"x":528,"y":114.6},{"c":4,"x":535,"y":110},{"c":4,"x":542,"y":98},{"c":4,"x":550,"y":86},{"c":4,"x":558,"y":76},{"c":4,"x":567,"y":67},{"c":4,"x":578,"y":54},{"c":4,"x":590,"y":40},{"c":4,"x":604,"y":26.5},{"c":4,"x":620,"y":15.5},{"c":4,"x":638,"y":7.4},{"c":4,"x":660,"y":2},
{"c":5,"x":510,"y":62},{"c":5,"x":515,"y":78},{"c":5,"x":521,"y":99},{"c":5,"x":528,"y":112.6},{"c":5,"x":535,"y":108},{"c":5,"x":542,"y":96},{"c":5,"x":550,"y":84},{"c":5,"x":558,"y":74},{"c":5,"x":567,"y":65},{"c":5,"x":578,"y":53},{"c":5,"x":590,"y":39},{"c":5,"x":604,"y":26},{"c":5,"x":620,"y":15.2},{"c":5,"x":638,"y":7.3},{"c":5,"x":660,"y":2},
{"c":6,"x":510,"y":61},{"c":6,"x":515,"y":76},{"c":6,"x":521,"y":97},{"c":6,"x":528,"y":110},{"c":6,"x":535,"y":106},{"c":6,"x":542,"y":94},{"c":6,"x":550,"y":82},{"c":6,"x":558,"y":72},{"c":6,"x":567,"y":64},{"c":6,"x":578,"y":52},{"c":6,"x":590,"y":38},{"c":6,"x":604,"y":25.5},{"c":6,"x":620,"y":15},{"c":6,"x":638,"y":7.2},{"c":6,"x":660,"y":2},
{"c":7,"x":510,"y":59},{"c":7,"x":515,"y":74},{"c":7,"x":521,"y":93},{"c":7,"x":528,"y":106},{"c":7,"x":535,"y":102},{"c":7,"x":542,"y":91},{"c":7,"x":550,"y":80},{"c":7,"x":558,"y":70},{"c":7,"x":567,"y":62},{"c":7,"x":578,"y":50.5},{"c":7,"x":590,"y":37},{"c":7,"x":604,"y":25},{"c":7,"x":620,"y":14.8},{"c":7,"x":638,"y":7.1},{"c":7,"x":660,"y":2},
{"c":8,"x":510,"y":58},{"c":8,"x":515,"y":72},{"c":8,"x":521,"y":90},{"c":8,"x":528,"y":102},{"c":8,"x":535,"y":99},{"c":8,"x":542,"y":89},{"c":8,"x":550,"y":78},{"c":8,"x":558,"y":68},{"c":8,"x":567,"y":60},{"c":8,"x":578,"y":49},{"c":8,"x":590,"y":36},{"c":8,"x":604,"y":24},{"c":8,"x":620,"y":14.5},{"c":8,"x":638,"y":7},{"c":8,"x":660,"y":2}
]},"mark":"line","encoding":{"x":{"field":"x","type":"quantitative","scale":{"domain":[510,660],"nice":false,"zero":false},"axis":{"values":[510,540,570,600,630,660],"title":null}},"y":{"field":"y","type":"quantitative","scale":{"domain":[-6,156],"nice":false,"zero":false},"axis":{"values":[37.5,75,112.5],"labels":false,"title":null}},"detail":{"field":"c","type":"nominal"}}},
{"data":{"values":[{}]},"mark":"rule","encoding":{"x":{"datum":542.6},"y":{"datum":130},"y2":{"datum":114}}},
{"data":{"values":[{}]},"mark":"point","encoding":{"x":{"datum":542.6},"y":{"datum":115.5}}},
{"data":{"values":[{}]},"mark":{"type":"text","align":"right"},"encoding":{"x":{"datum":614},"y":{"datum":128},"text":{"value":"ALN+"}}},
{"data":{"values":[{}]},"mark":{"type":"text","align":"left","fontStyle":"italic"},"encoding":{"x":{"datum":614},"y":{"datum":128},"text":{"value":"c-MYC"}}}
]},
{"width":248,"height":198,"layer":[
{"data":{"values":[
{"c":1,"x":510,"y":110},{"c":1,"x":512,"y":80},{"c":1,"x":515,"y":50},{"c":1,"x":518,"y":57},{"c":1,"x":522,"y":80},{"c":1,"x":527,"y":112},{"c":1,"x":532,"y":133},{"c":1,"x":536,"y":139.5},{"c":1,"x":541,"y":134},{"c":1,"x":547,"y":120},{"c":1,"x":554,"y":102},{"c":1,"x":562,"y":82},{"c":1,"x":571,"y":60},{"c":1,"x":582,"y":40},{"c":1,"x":595,"y":23},{"c":1,"x":610,"y":11},{"c":1,"x":630,"y":3.5},{"c":1,"x":650,"y":1},
{"c":2,"x":510,"y":106},{"c":2,"x":512,"y":76},{"c":2,"x":515,"y":47},{"c":2,"x":518,"y":54},{"c":2,"x":522,"y":74},{"c":2,"x":527,"y":102},{"c":2,"x":532,"y":121},{"c":2,"x":536,"y":126.5},{"c":2,"x":541,"y":122},{"c":2,"x":547,"y":110},{"c":2,"x":554,"y":94},{"c":2,"x":562,"y":76},{"c":2,"x":571,"y":56},{"c":2,"x":582,"y":37.5},{"c":2,"x":595,"y":21.5},{"c":2,"x":610,"y":10.5},{"c":2,"x":630,"y":3.4},{"c":2,"x":650,"y":1},
{"c":3,"x":510,"y":104},{"c":3,"x":512,"y":74},{"c":3,"x":515,"y":46},{"c":3,"x":518,"y":53},{"c":3,"x":522,"y":72},{"c":3,"x":527,"y":99},{"c":3,"x":532,"y":117},{"c":3,"x":536,"y":122.5},{"c":3,"x":541,"y":118},{"c":3,"x":547,"y":107},{"c":3,"x":554,"y":91},{"c":3,"x":562,"y":74},{"c":3,"x":571,"y":55},{"c":3,"x":582,"y":37},{"c":3,"x":595,"y":21},{"c":3,"x":610,"y":10.3},{"c":3,"x":630,"y":3.3},{"c":3,"x":650,"y":1},
{"c":4,"x":510,"y":103},{"c":4,"x":512,"y":72},{"c":4,"x":515,"y":45},{"c":4,"x":518,"y":52},{"c":4,"x":522,"y":71},{"c":4,"x":527,"y":97},{"c":4,"x":532,"y":115},{"c":4,"x":536,"y":120},{"c":4,"x":541,"y":116},{"c":4,"x":547,"y":105},{"c":4,"x":554,"y":89.5},{"c":4,"x":562,"y":73},{"c":4,"x":571,"y":54},{"c":4,"x":582,"y":36.5},{"c":4,"x":595,"y":20.8},{"c":4,"x":610,"y":10.2},{"c":4,"x":630,"y":3.3},{"c":4,"x":650,"y":1},
{"c":5,"x":510,"y":102},{"c":5,"x":512,"y":71},{"c":5,"x":515,"y":44.5},{"c":5,"x":518,"y":51},{"c":5,"x":522,"y":70},{"c":5,"x":527,"y":95},{"c":5,"x":532,"y":113},{"c":5,"x":536,"y":118},{"c":5,"x":541,"y":114},{"c":5,"x":547,"y":103},{"c":5,"x":554,"y":88},{"c":5,"x":562,"y":72},{"c":5,"x":571,"y":53},{"c":5,"x":582,"y":36},{"c":5,"x":595,"y":20.5},{"c":5,"x":610,"y":10},{"c":5,"x":630,"y":3.2},{"c":5,"x":650,"y":1},
{"c":6,"x":510,"y":100},{"c":6,"x":512,"y":70},{"c":6,"x":515,"y":44},{"c":6,"x":518,"y":50},{"c":6,"x":522,"y":68},{"c":6,"x":527,"y":93},{"c":6,"x":532,"y":110},{"c":6,"x":536,"y":115},{"c":6,"x":541,"y":111},{"c":6,"x":547,"y":100},{"c":6,"x":554,"y":86},{"c":6,"x":562,"y":70},{"c":6,"x":571,"y":52},{"c":6,"x":582,"y":35},{"c":6,"x":595,"y":20},{"c":6,"x":610,"y":9.8},{"c":6,"x":630,"y":3.2},{"c":6,"x":650,"y":1}
]},"mark":"line","encoding":{"x":{"field":"x","type":"quantitative","scale":{"domain":[510,650],"nice":false,"zero":false},"axis":{"values":[510,540,570,600,630],"labelFont":"Liberation Sans","labelFontSize":11,"title":null}},"y":{"field":"y","type":"quantitative","scale":{"domain":[-6,156],"nice":false,"zero":false},"axis":{"values":[37.5,75,112.5],"labels":false,"title":null}},"detail":{"field":"c","type":"nominal"}}},
{"data":{"values":[{}]},"mark":"rule","encoding":{"x":{"datum":554},"y":{"datum":136},"y2":{"datum":114}}},
{"data":{"values":[{}]},"mark":"point","encoding":{"x":{"datum":554},"y":{"datum":115.5}}},
{"data":{"values":[{}]},"mark":{"type":"text","align":"right"},"encoding":{"x":{"datum":598.6},"y":{"datum":127.4},"text":{"value":"ALN+"}}},
{"data":{"values":[{}]},"mark":{"type":"text","align":"left","fontStyle":"italic"},"encoding":{"x":{"datum":598.6},"y":{"datum":127.4},"text":{"value":"HUMTEL"}}}
]},
{"width":248,"height":198,"layer":[
{"data":{"values":[
{"c":1,"x":510,"y":62},{"c":1,"x":515,"y":80},{"c":1,"x":520,"y":105},{"c":1,"x":525,"y":124},{"c":1,"x":530,"y":130},{"c":1,"x":536,"y":124},{"c":1,"x":543,"y":110},{"c":1,"x":551,"y":97},{"c":1,"x":560,"y":86},{"c":1,"x":570,"y":71},{"c":1,"x":582,"y":53},{"c":1,"x":596,"y":37},{"c":1,"x":612,"y":22},{"c":1,"x":630,"y":9},{"c":1,"x":660,"y":1.5},
{"c":2,"x":510,"y":61},{"c":2,"x":515,"y":78},{"c":2,"x":520,"y":101},{"c":2,"x":525,"y":119},{"c":2,"x":530,"y":125},{"c":2,"x":536,"y":119},{"c":2,"x":543,"y":106},{"c":2,"x":551,"y":94},{"c":2,"x":560,"y":83},{"c":2,"x":570,"y":69},{"c":2,"x":582,"y":52},{"c":2,"x":596,"y":36},{"c":2,"x":612,"y":21.5},{"c":2,"x":630,"y":8.8},{"c":2,"x":660,"y":1.5},
{"c":3,"x":510,"y":60},{"c":3,"x":515,"y":75},{"c":3,"x":520,"y":96},{"c":3,"x":525,"y":113},{"c":3,"x":530,"y":119},{"c":3,"x":536,"y":114},{"c":3,"x":543,"y":102},{"c":3,"x":551,"y":90},{"c":3,"x":560,"y":80},{"c":3,"x":570,"y":67},{"c":3,"x":582,"y":50},{"c":3,"x":596,"y":35},{"c":3,"x":612,"y":21},{"c":3,"x":630,"y":8.5},{"c":3,"x":660,"y":1.5},
{"c":4,"x":510,"y":58},{"c":4,"x":515,"y":72},{"c":4,"x":520,"y":90},{"c":4,"x":525,"y":105},{"c":4,"x":530,"y":111},{"c":4,"x":536,"y":107},{"c":4,"x":543,"y":97},{"c":4,"x":551,"y":86},{"c":4,"x":560,"y":77},{"c":4,"x":570,"y":64},{"c":4,"x":582,"y":48.5},{"c":4,"x":596,"y":34},{"c":4,"x":612,"y":20},{"c":4,"x":630,"y":8},{"c":4,"x":660,"y":1.4},
{"c":5,"x":510,"y":56},{"c":5,"x":515,"y":69},{"c":5,"x":520,"y":86},{"c":5,"x":525,"y":100},{"c":5,"x":530,"y":105},{"c":5,"x":536,"y":101},{"c":5,"x":543,"y":92},{"c":5,"x":551,"y":83},{"c":5,"x":560,"y":75},{"c":5,"x":570,"y":62},{"c":5,"x":582,"y":47},{"c":5,"x":596,"y":33},{"c":5,"x":612,"y":19.5},{"c":5,"x":630,"y":7.5},{"c":5,"x":660,"y":1.4},
{"c":6,"x":510,"y":55},{"c":6,"x":515,"y":67},{"c":6,"x":520,"y":83},{"c":6,"x":525,"y":96},{"c":6,"x":530,"y":100.6},{"c":6,"x":536,"y":97},{"c":6,"x":543,"y":89},{"c":6,"x":551,"y":80.5},{"c":6,"x":560,"y":73.5},{"c":6,"x":570,"y":60.5},{"c":6,"x":582,"y":46},{"c":6,"x":596,"y":32},{"c":6,"x":612,"y":19},{"c":6,"x":630,"y":7.2},{"c":6,"x":660,"y":1.3},
{"c":7,"x":510,"y":53},{"c":7,"x":515,"y":64},{"c":7,"x":520,"y":79},{"c":7,"x":525,"y":91.5},{"c":7,"x":530,"y":96.5},{"c":7,"x":536,"y":93.5},{"c":7,"x":543,"y":86},{"c":7,"x":551,"y":78.5},{"c":7,"x":560,"y":72},{"c":7,"x":570,"y":59},{"c":7,"x":582,"y":45},{"c":7,"x":596,"y":31},{"c":7,"x":612,"y":18.5},{"c":7,"x":630,"y":6.8},{"c":7,"x":660,"y":1.2},
{"c":8,"x":510,"y":52},{"c":8,"x":515,"y":63},{"c":8,"x":520,"y":78},{"c":8,"x":525,"y":90},{"c":8,"x":530,"y":95},{"c":8,"x":536,"y":92},{"c":8,"x":543,"y":85},{"c":8,"x":551,"y":77.5},{"c":8,"x":560,"y":71},{"c":8,"x":570,"y":58},{"c":8,"x":582,"y":44},{"c":8,"x":596,"y":30},{"c":8,"x":612,"y":18},{"c":8,"x":630,"y":6.5},{"c":8,"x":660,"y":1.2}
]},"mark":"line","encoding":{"x":{"field":"x","type":"quantitative","scale":{"domain":[510,660],"nice":false,"zero":false},"axis":{"values":[510,540,570,600,630,660],"title":"Wavelength (nm)","titleFont":"Liberation Sans","titleFontSize":24,"titleFontWeight":"bold","titleColor":"#000","titleX":52,"titleY":53,"titleBaseline":"alphabetic","titleAlign":"center"}},"y":{"field":"y","type":"quantitative","scale":{"domain":[-6,156],"nice":false,"zero":false},"axis":{"values":[37.5,75,112.5],"labels":false,"title":null}},"detail":{"field":"c","type":"nominal"}}},
{"data":{"values":[{}]},"mark":"rule","encoding":{"x":{"datum":543},"y":{"datum":129},"y2":{"datum":113}}},
{"data":{"values":[{}]},"mark":"point","encoding":{"x":{"datum":543},"y":{"datum":114.5}}},
{"data":{"values":[{}]},"mark":{"type":"text","align":"right"},"encoding":{"x":{"datum":603.7},"y":{"datum":122},"text":{"value":"ALN+"}}},
{"data":{"values":[{}]},"mark":{"type":"text","align":"left","fontStyle":"italic"},"encoding":{"x":{"datum":603.7},"y":{"datum":122},"text":{"value":"BCL-2"}}}
]},
{"width":248,"height":198,"layer":[
{"data":{"values":[
{"c":1,"x":510,"y":33},{"c":1,"x":512,"y":28},{"c":1,"x":515,"y":36},{"c":1,"x":519,"y":60},{"c":1,"x":524,"y":92},{"c":1,"x":529,"y":122},{"c":1,"x":535,"y":135},{"c":1,"x":541,"y":129},{"c":1,"x":548,"y":112},{"c":1,"x":556,"y":90},{"c":1,"x":565,"y":70},{"c":1,"x":575,"y":52},{"c":1,"x":587,"y":34},{"c":1,"x":600,"y":19},{"c":1,"x":615,"y":9},{"c":1,"x":635,"y":3},{"c":1,"x":660,"y":0.5},
{"c":2,"x":510,"y":33},{"c":2,"x":512,"y":28},{"c":2,"x":515,"y":36},{"c":2,"x":519,"y":59.5},{"c":2,"x":524,"y":91},{"c":2,"x":529,"y":121},{"c":2,"x":535,"y":133.5},{"c":2,"x":541,"y":128},{"c":2,"x":548,"y":111},{"c":2,"x":556,"y":89.5},{"c":2,"x":565,"y":69.5},{"c":2,"x":575,"y":51.7},{"c":2,"x":587,"y":33.8},{"c":2,"x":600,"y":18.9},{"c":2,"x":615,"y":9},{"c":2,"x":635,"y":3},{"c":2,"x":660,"y":0.5},
{"c":3,"x":510,"y":33},{"c":3,"x":512,"y":28},{"c":3,"x":515,"y":36},{"c":3,"x":519,"y":59},{"c":3,"x":524,"y":90},{"c":3,"x":529,"y":119},{"c":3,"x":535,"y":132},{"c":3,"x":541,"y":126.5},{"c":3,"x":548,"y":109.5},{"c":3,"x":556,"y":88.5},{"c":3,"x":565,"y":69},{"c":3,"x":575,"y":51.3},{"c":3,"x":587,"y":33.6},{"c":3,"x":600,"y":18.8},{"c":3,"x":615,"y":8.9},{"c":3,"x":635,"y":3},{"c":3,"x":660,"y":0.5},
{"c":4,"x":510,"y":33},{"c":4,"x":512,"y":28},{"c":4,"x":515,"y":35.5},{"c":4,"x":519,"y":58},{"c":4,"x":524,"y":89},{"c":4,"x":529,"y":117.5},{"c":4,"x":535,"y":130},{"c":4,"x":541,"y":125},{"c":4,"x":548,"y":108},{"c":4,"x":556,"y":88},{"c":4,"x":565,"y":68.5},{"c":4,"x":575,"y":51},{"c":4,"x":587,"y":33.4},{"c":4,"x":600,"y":18.6},{"c":4,"x":615,"y":8.8},{"c":4,"x":635,"y":3},{"c":4,"x":660,"y":0.5},
{"c":5,"x":510,"y":33},{"c":5,"x":512,"y":28},{"c":5,"x":515,"y":35},{"c":5,"x":519,"y":57.5},{"c":5,"x":524,"y":88},{"c":5,"x":529,"y":116},{"c":5,"x":535,"y":128.5},{"c":5,"x":541,"y":123.5},{"c":5,"x":548,"y":107},{"c":5,"x":556,"y":87.5},{"c":5,"x":565,"y":68},{"c":5,"x":575,"y":50.7},{"c":5,"x":587,"y":33.2},{"c":5,"x":600,"y":18.5},{"c":5,"x":615,"y":8.7},{"c":5,"x":635,"y":3},{"c":5,"x":660,"y":0.5},
{"c":6,"x":510,"y":33},{"c":6,"x":512,"y":28},{"c":6,"x":515,"y":35},{"c":6,"x":519,"y":57},{"c":6,"x":524,"y":87},{"c":6,"x":529,"y":115},{"c":6,"x":535,"y":127},{"c":6,"x":541,"y":122},{"c":6,"x":548,"y":106},{"c":6,"x":556,"y":87},{"c":6,"x":565,"y":67.5},{"c":6,"x":575,"y":50.4},{"c":6,"x":587,"y":33},{"c":6,"x":600,"y":18.4},{"c":6,"x":615,"y":8.6},{"c":6,"x":635,"y":3},{"c":6,"x":660,"y":0.5}
]},"mark":"line","encoding":{"x":{"field":"x","type":"quantitative","scale":{"domain":[510,660],"nice":false,"zero":false},"axis":{"values":[510,540,570,600,630,660],"labelFont":"Liberation Sans","labelFontSize":11,"title":null}},"y":{"field":"y","type":"quantitative","scale":{"domain":[-6,156],"nice":false,"zero":false},"axis":{"values":[37.5,75,112.5],"labels":false,"title":null}},"detail":{"field":"c","type":"nominal"}}},
{"data":{"values":[{}]},"mark":"rule","encoding":{"x":{"datum":549.6},"y":{"datum":130.5},"y2":{"datum":119}}},
{"data":{"values":[{}]},"mark":"point","encoding":{"x":{"datum":549.6},"y":{"datum":120.5}}},
{"data":{"values":[{}]},"mark":{"type":"text","align":"right"},"encoding":{"x":{"datum":612.8},"y":{"datum":131},"text":{"value":"ALN+"}}},
{"data":{"values":[{}]},"mark":{"type":"text","align":"left","fontStyle":"italic"},"encoding":{"x":{"datum":612.8},"y":{"datum":131},"text":{"value":"KRAS"}}}
]},
{"width":248,"height":198,"layer":[
{"data":{"values":[
{"c":1,"x":514,"y":49.5},{"c":1,"x":518,"y":70},{"c":1,"x":522,"y":100},{"c":1,"x":527,"y":125},{"c":1,"x":533,"y":134},{"c":1,"x":539,"y":129},{"c":1,"x":546,"y":114},{"c":1,"x":554,"y":96},{"c":1,"x":563,"y":77},{"c":1,"x":573,"y":58},{"c":1,"x":585,"y":39},{"c":1,"x":600,"y":22},{"c":1,"x":615,"y":11},{"c":1,"x":630,"y":4.5},{"c":1,"x":650,"y":0.8},
{"c":2,"x":514,"y":49.5},{"c":2,"x":518,"y":69},{"c":2,"x":522,"y":99},{"c":2,"x":527,"y":123},{"c":2,"x":533,"y":132},{"c":2,"x":539,"y":127},{"c":2,"x":546,"y":112},{"c":2,"x":554,"y":94.5},{"c":2,"x":563,"y":76},{"c":2,"x":573,"y":57},{"c":2,"x":585,"y":38.5},{"c":2,"x":600,"y":21.7},{"c":2,"x":615,"y":10.9},{"c":2,"x":630,"y":4.5},{"c":2,"x":650,"y":0.8},
{"c":3,"x":514,"y":49.5},{"c":3,"x":518,"y":68.5},{"c":3,"x":522,"y":98},{"c":3,"x":527,"y":122},{"c":3,"x":533,"y":130.5},{"c":3,"x":539,"y":125.5},{"c":3,"x":546,"y":111},{"c":3,"x":554,"y":93.5},{"c":3,"x":563,"y":75},{"c":3,"x":573,"y":56.5},{"c":3,"x":585,"y":38},{"c":3,"x":600,"y":21.5},{"c":3,"x":615,"y":10.8},{"c":3,"x":630,"y":4.4},{"c":3,"x":650,"y":0.8},
{"c":4,"x":514,"y":49.5},{"c":4,"x":518,"y":68},{"c":4,"x":522,"y":97},{"c":4,"x":527,"y":121},{"c":4,"x":533,"y":129},{"c":4,"x":539,"y":124},{"c":4,"x":546,"y":110},{"c":4,"x":554,"y":92.5},{"c":4,"x":563,"y":74.5},{"c":4,"x":573,"y":56},{"c":4,"x":585,"y":37.8},{"c":4,"x":600,"y":21.3},{"c":4,"x":615,"y":10.7},{"c":4,"x":630,"y":4.4},{"c":4,"x":650,"y":0.8},
{"c":5,"x":514,"y":49.5},{"c":5,"x":518,"y":67.5},{"c":5,"x":522,"y":96},{"c":5,"x":527,"y":120},{"c":5,"x":533,"y":128},{"c":5,"x":539,"y":123},{"c":5,"x":546,"y":109},{"c":5,"x":554,"y":91.7},{"c":5,"x":563,"y":73.7},{"c":5,"x":573,"y":55.5},{"c":5,"x":585,"y":37.4},{"c":5,"x":600,"y":21.1},{"c":5,"x":615,"y":10.6},{"c":5,"x":630,"y":4.3},{"c":5,"x":650,"y":0.8},
{"c":6,"x":514,"y":49.5},{"c":6,"x":518,"y":67},{"c":6,"x":522,"y":95},{"c":6,"x":527,"y":119},{"c":6,"x":533,"y":127},{"c":6,"x":539,"y":122},{"c":6,"x":546,"y":108},{"c":6,"x":554,"y":91},{"c":6,"x":563,"y":73},{"c":6,"x":573,"y":55},{"c":6,"x":585,"y":37},{"c":6,"x":600,"y":21},{"c":6,"x":615,"y":10.5},{"c":6,"x":630,"y":4.3},{"c":6,"x":650,"y":0.8}
]},"mark":"line","encoding":{"x":{"field":"x","type":"quantitative","scale":{"domain":[514,650],"nice":false,"zero":false},"axis":{"values":[550,600,650],"labelFont":"Liberation Sans","labelFontSize":11,"title":null}},"y":{"field":"y","type":"quantitative","scale":{"domain":[-6,156],"nice":false,"zero":false},"axis":{"values":[37.5,75,112.5],"labels":false,"title":null}},"detail":{"field":"c","type":"nominal"}}},
{"data":{"values":[{}]},"mark":"rule","encoding":{"x":{"datum":549},"y":{"datum":130.5},"y2":{"datum":119}}},
{"data":{"values":[{}]},"mark":"point","encoding":{"x":{"datum":549},"y":{"datum":120.5}}},
{"data":{"values":[{}]},"mark":{"type":"text","align":"right"},"encoding":{"x":{"datum":610.5},"y":{"datum":133.5},"text":{"value":"ALN+"}}},
{"data":{"values":[{}]},"mark":{"type":"text","align":"left","fontStyle":"italic"},"encoding":{"x":{"datum":610.5},"y":{"datum":133.5},"text":{"value":"VEGF"}}}
]}
]}
